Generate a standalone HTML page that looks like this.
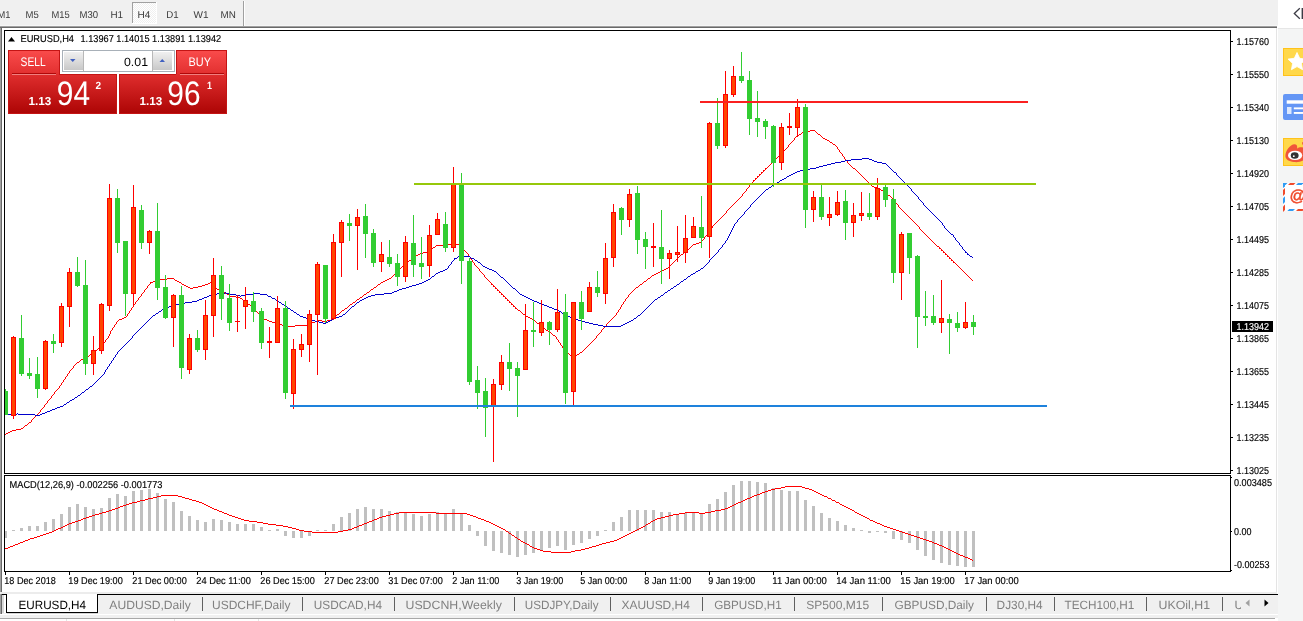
<!DOCTYPE html><html><head><meta charset="utf-8"><title>EURUSD,H4</title>
<style>html,body{margin:0;padding:0;background:#fff;overflow:hidden}svg{display:block;font-family:"Liberation Sans", sans-serif;text-rendering:geometricPrecision}</style></head><body>
<svg width="1303" height="621" viewBox="0 0 1303 621">
<defs>
<linearGradient id="gs" x1="0" y1="0" x2="0" y2="1"><stop offset="0" stop-color="#fa4c4c"/><stop offset="1" stop-color="#e23030"/></linearGradient>
<linearGradient id="gp" x1="0" y1="0" x2="0" y2="1"><stop offset="0" stop-color="#e02e2e"/><stop offset="1" stop-color="#ac0404"/></linearGradient>
<linearGradient id="gb" x1="0" y1="0" x2="0" y2="1"><stop offset="0" stop-color="#f0f0f0"/><stop offset="1" stop-color="#c8c8c8"/></linearGradient>
<pattern id="chk" width="2" height="2" patternUnits="userSpaceOnUse"><rect width="2" height="2" fill="#fff"/><rect width="1" height="1" fill="#f0f0f0"/><rect x="1" y="1" width="1" height="1" fill="#f0f0f0"/></pattern>
</defs>
<g shape-rendering="crispEdges">
<rect x="0" y="0" width="1303" height="621" fill="#fff" />
<rect x="0" y="0" width="1278" height="25" fill="#f0f0f0" />
<rect x="0" y="25" width="1278" height="1" fill="#f6f6f6" />
<rect x="0" y="26" width="1277" height="1" fill="#a0a0a0" />
<rect x="0" y="27" width="1277" height="1" fill="#696969" />
<rect x="132" y="2" width="25" height="22" fill="url(#chk)" />
<rect x="132" y="2" width="25" height="1" fill="#a0a0a0" />
<rect x="132" y="2" width="1" height="22" fill="#a0a0a0" />
<rect x="132" y="23" width="25" height="1" fill="#fff" />
<rect x="156" y="2" width="1" height="22" fill="#fff" />
<rect x="243" y="1" width="1" height="25" fill="#a0a0a0" />
<rect x="244" y="1" width="1" height="25" fill="#fff" />
<rect x="0" y="28" width="1" height="566" fill="#a0a0a0" />
<rect x="1" y="28" width="1" height="566" fill="#696969" />
<rect x="1276" y="28" width="1" height="566" fill="#e4e4e4" />
<rect x="1278" y="28" width="25" height="593" fill="#f4f5f5" />
<rect x="1278" y="28" width="25" height="1" fill="#e6e6e6" />
<rect x="4.5" y="30.5" width="1226" height="443" fill="#fff" stroke="#000" stroke-width="1"/>
<rect x="4.5" y="475.5" width="1226" height="96" fill="#fff" stroke="#000" stroke-width="1"/>
</g>
<g shape-rendering="crispEdges">
<rect x="1231" y="41" width="2" height="1" fill="#000" />
<rect x="1231" y="74" width="2" height="1" fill="#000" />
<rect x="1231" y="107" width="2" height="1" fill="#000" />
<rect x="1231" y="140" width="2" height="1" fill="#000" />
<rect x="1231" y="173" width="2" height="1" fill="#000" />
<rect x="1231" y="206" width="2" height="1" fill="#000" />
<rect x="1231" y="239" width="2" height="1" fill="#000" />
<rect x="1231" y="272" width="2" height="1" fill="#000" />
<rect x="1231" y="305" width="2" height="1" fill="#000" />
<rect x="1231" y="338" width="2" height="1" fill="#000" />
<rect x="1231" y="371" width="2" height="1" fill="#000" />
<rect x="1231" y="404" width="2" height="1" fill="#000" />
<rect x="1231" y="437" width="2" height="1" fill="#000" />
<rect x="1231" y="470" width="2" height="1" fill="#000" />
</g>
<text x="1236.5" y="45" font-size="10.0" fill="#000" textLength="32.5" lengthAdjust="spacingAndGlyphs" stroke="#000" stroke-width="0.15" >1.15760</text>
<text x="1236.5" y="78" font-size="10.0" fill="#000" textLength="32.5" lengthAdjust="spacingAndGlyphs" stroke="#000" stroke-width="0.15" >1.15550</text>
<text x="1236.5" y="111" font-size="10.0" fill="#000" textLength="32.5" lengthAdjust="spacingAndGlyphs" stroke="#000" stroke-width="0.15" >1.15340</text>
<text x="1236.5" y="144" font-size="10.0" fill="#000" textLength="32.5" lengthAdjust="spacingAndGlyphs" stroke="#000" stroke-width="0.15" >1.15130</text>
<text x="1236.5" y="177" font-size="10.0" fill="#000" textLength="32.5" lengthAdjust="spacingAndGlyphs" stroke="#000" stroke-width="0.15" >1.14920</text>
<text x="1236.5" y="210" font-size="10.0" fill="#000" textLength="32.5" lengthAdjust="spacingAndGlyphs" stroke="#000" stroke-width="0.15" >1.14705</text>
<text x="1236.5" y="243" font-size="10.0" fill="#000" textLength="32.5" lengthAdjust="spacingAndGlyphs" stroke="#000" stroke-width="0.15" >1.14495</text>
<text x="1236.5" y="276" font-size="10.0" fill="#000" textLength="32.5" lengthAdjust="spacingAndGlyphs" stroke="#000" stroke-width="0.15" >1.14285</text>
<text x="1236.5" y="309" font-size="10.0" fill="#000" textLength="32.5" lengthAdjust="spacingAndGlyphs" stroke="#000" stroke-width="0.15" >1.14075</text>
<text x="1236.5" y="342" font-size="10.0" fill="#000" textLength="32.5" lengthAdjust="spacingAndGlyphs" stroke="#000" stroke-width="0.15" >1.13865</text>
<text x="1236.5" y="375" font-size="10.0" fill="#000" textLength="32.5" lengthAdjust="spacingAndGlyphs" stroke="#000" stroke-width="0.15" >1.13655</text>
<text x="1236.5" y="408" font-size="10.0" fill="#000" textLength="32.5" lengthAdjust="spacingAndGlyphs" stroke="#000" stroke-width="0.15" >1.13445</text>
<text x="1236.5" y="441" font-size="10.0" fill="#000" textLength="32.5" lengthAdjust="spacingAndGlyphs" stroke="#000" stroke-width="0.15" >1.13235</text>
<text x="1236.5" y="474" font-size="10.0" fill="#000" textLength="32.5" lengthAdjust="spacingAndGlyphs" stroke="#000" stroke-width="0.15" >1.13025</text>
<g shape-rendering="crispEdges">
<rect x="1231" y="477" width="1" height="1" fill="#000" />
<rect x="1231" y="531" width="1" height="1" fill="#000" />
<rect x="1231" y="570" width="1" height="1" fill="#000" />
</g>
<text x="1234" y="486" font-size="10.0" fill="#000" textLength="38" lengthAdjust="spacingAndGlyphs" stroke="#000" stroke-width="0.15" >0.003485</text>
<text x="1234" y="535" font-size="10.0" fill="#000" textLength="17.5" lengthAdjust="spacingAndGlyphs" stroke="#000" stroke-width="0.15" >0.00</text>
<text x="1234" y="568" font-size="10.0" fill="#000" textLength="35.5" lengthAdjust="spacingAndGlyphs" stroke="#000" stroke-width="0.15" >-0.00253</text>
<clipPath id="cm"><rect x="5" y="31" width="1225" height="442"/></clipPath>
<path d="M5 434h1v1h-1zM6 433h1v1h-1zM7 433h1v1h-1zM8 432h1v1h-1zM9 432h1v1h-1zM10 431h1v1h-1zM11 431h1v1h-1zM12 430h1v1h-1zM13 430h1v1h-1zM14 430h1v1h-1zM15 430h1v1h-1zM16 429h1v1h-1zM17 429h1v1h-1zM18 429h1v1h-1zM19 429h1v1h-1zM20 429h1v1h-1zM21 428h1v1h-1zM22 428h1v1h-1zM23 427h1v1h-1zM24 426h1v1h-1zM25 425h1v1h-1zM26 425h1v1h-1zM27 424h1v1h-1zM28 423h1v1h-1zM29 422h1v1h-1zM30 422h1v1h-1zM31 420h1v2h-1zM32 419h1v1h-1zM33 418h1v1h-1zM34 417h1v1h-1zM35 416h1v1h-1zM36 415h1v1h-1zM37 414h1v1h-1zM38 413h1v1h-1zM39 412h1v1h-1zM40 410h1v2h-1zM41 409h1v1h-1zM42 408h1v1h-1zM43 407h1v1h-1zM44 405h1v2h-1zM45 404h1v1h-1zM46 403h1v1h-1zM47 401h1v2h-1zM48 400h1v1h-1zM49 399h1v1h-1zM50 398h1v1h-1zM51 396h1v2h-1zM52 395h1v1h-1zM53 394h1v1h-1zM54 392h1v2h-1zM55 391h1v1h-1zM56 390h1v1h-1zM57 389h1v1h-1zM58 388h1v1h-1zM59 386h1v2h-1zM60 385h1v1h-1zM61 383h1v2h-1zM62 382h1v1h-1zM63 380h1v2h-1zM64 379h1v1h-1zM65 377h1v2h-1zM66 376h1v1h-1zM67 374h1v2h-1zM68 373h1v1h-1zM69 371h1v2h-1zM70 370h1v1h-1zM71 369h1v1h-1zM72 368h1v1h-1zM73 366h1v2h-1zM74 365h1v1h-1zM75 364h1v1h-1zM76 363h1v1h-1zM77 362h1v1h-1zM78 362h1v1h-1zM79 361h1v1h-1zM80 360h1v1h-1zM81 359h1v1h-1zM82 359h1v1h-1zM83 358h1v1h-1zM84 358h1v1h-1zM85 357h1v1h-1zM86 357h1v1h-1zM87 356h1v1h-1zM88 356h1v1h-1zM89 355h1v1h-1zM90 354h1v1h-1zM91 354h1v1h-1zM92 353h1v1h-1zM93 352h1v1h-1zM94 352h1v1h-1zM95 351h1v1h-1zM96 350h1v1h-1zM97 349h1v1h-1zM98 348h1v1h-1zM99 347h1v1h-1zM100 346h1v1h-1zM101 345h1v1h-1zM102 344h1v1h-1zM103 343h1v1h-1zM104 342h1v1h-1zM105 340h1v2h-1zM106 339h1v1h-1zM107 338h1v1h-1zM108 336h1v2h-1zM109 334h1v2h-1zM110 331h1v3h-1zM111 330h1v1h-1zM112 328h1v2h-1zM113 327h1v1h-1zM114 325h1v2h-1zM115 324h1v1h-1zM116 322h1v2h-1zM117 321h1v1h-1zM118 320h1v1h-1zM119 319h1v1h-1zM120 319h1v1h-1zM121 319h1v1h-1zM122 318h1v1h-1zM123 318h1v1h-1zM124 317h1v1h-1zM125 317h1v1h-1zM126 316h1v1h-1zM127 314h1v2h-1zM128 313h1v1h-1zM129 311h1v2h-1zM130 310h1v1h-1zM131 308h1v2h-1zM132 307h1v1h-1zM133 305h1v2h-1zM134 304h1v1h-1zM135 302h1v2h-1zM136 301h1v1h-1zM137 300h1v1h-1zM138 298h1v2h-1zM139 297h1v1h-1zM140 296h1v1h-1zM141 294h1v2h-1zM142 293h1v1h-1zM143 292h1v1h-1zM144 290h1v2h-1zM145 289h1v1h-1zM146 288h1v1h-1zM147 286h1v2h-1zM148 285h1v1h-1zM149 284h1v1h-1zM150 282h1v2h-1zM151 282h1v1h-1zM152 282h1v1h-1zM153 281h1v1h-1zM154 281h1v1h-1zM155 281h1v1h-1zM156 280h1v1h-1zM157 280h1v1h-1zM158 280h1v1h-1zM159 279h1v1h-1zM160 279h1v1h-1zM161 279h1v1h-1zM162 279h1v1h-1zM163 279h1v1h-1zM164 279h1v1h-1zM165 279h1v1h-1zM166 279h1v1h-1zM167 278h1v1h-1zM168 278h1v1h-1zM169 278h1v1h-1zM170 278h1v1h-1zM171 278h1v1h-1zM172 278h1v1h-1zM173 278h1v1h-1zM174 279h1v1h-1zM175 280h1v1h-1zM176 280h1v1h-1zM177 281h1v1h-1zM178 281h1v1h-1zM179 282h1v1h-1zM180 282h1v1h-1zM181 283h1v1h-1zM182 284h1v1h-1zM183 284h1v1h-1zM184 285h1v1h-1zM185 285h1v1h-1zM186 286h1v1h-1zM187 286h1v1h-1zM188 287h1v1h-1zM189 287h1v1h-1zM190 288h1v1h-1zM191 288h1v1h-1zM192 288h1v1h-1zM193 287h1v1h-1zM194 287h1v1h-1zM195 287h1v1h-1zM196 287h1v1h-1zM197 287h1v1h-1zM198 286h1v1h-1zM199 286h1v1h-1zM200 286h1v1h-1zM201 286h1v1h-1zM202 285h1v1h-1zM203 285h1v1h-1zM204 285h1v1h-1zM205 284h1v1h-1zM206 284h1v1h-1zM207 284h1v1h-1zM208 283h1v1h-1zM209 283h1v1h-1zM210 282h1v1h-1zM211 283h1v1h-1zM212 284h1v1h-1zM213 285h1v1h-1zM214 286h1v1h-1zM215 287h1v1h-1zM216 288h1v1h-1zM217 289h1v1h-1zM218 289h1v1h-1zM219 290h1v1h-1zM220 290h1v1h-1zM221 291h1v1h-1zM222 291h1v1h-1zM223 292h1v1h-1zM224 292h1v1h-1zM225 293h1v1h-1zM226 293h1v1h-1zM227 294h1v1h-1zM228 294h1v1h-1zM229 295h1v1h-1zM230 296h1v1h-1zM231 296h1v1h-1zM232 296h1v1h-1zM233 296h1v1h-1zM234 296h1v1h-1zM235 296h1v1h-1zM236 297h1v1h-1zM237 297h1v1h-1zM238 297h1v1h-1zM239 297h1v1h-1zM240 298h1v1h-1zM241 298h1v1h-1zM242 299h1v1h-1zM243 300h1v1h-1zM244 300h1v1h-1zM245 301h1v1h-1zM246 302h1v1h-1zM247 303h1v1h-1zM248 304h1v1h-1zM249 304h1v1h-1zM250 305h1v1h-1zM251 306h1v1h-1zM252 307h1v1h-1zM253 308h1v1h-1zM254 309h1v1h-1zM255 310h1v1h-1zM256 311h1v1h-1zM257 312h1v1h-1zM258 313h1v1h-1zM259 314h1v1h-1zM260 315h1v1h-1zM261 316h1v1h-1zM262 317h1v1h-1zM263 318h1v1h-1zM264 319h1v1h-1zM265 319h1v1h-1zM266 319h1v1h-1zM267 320h1v1h-1zM268 320h1v1h-1zM269 321h1v1h-1zM270 321h1v1h-1zM271 321h1v1h-1zM272 322h1v1h-1zM273 322h1v1h-1zM274 322h1v1h-1zM275 322h1v1h-1zM276 323h1v1h-1zM277 323h1v1h-1zM278 323h1v1h-1zM279 324h1v1h-1zM280 324h1v1h-1zM281 324h1v1h-1zM282 325h1v1h-1zM283 325h1v1h-1zM284 325h1v1h-1zM285 325h1v1h-1zM286 326h1v1h-1zM287 326h1v1h-1zM288 326h1v1h-1zM289 326h1v1h-1zM290 326h1v1h-1zM291 326h1v1h-1zM292 326h1v1h-1zM293 326h1v1h-1zM294 326h1v1h-1zM295 325h1v1h-1zM296 325h1v1h-1zM297 325h1v1h-1zM298 325h1v1h-1zM299 325h1v1h-1zM300 325h1v1h-1zM301 325h1v1h-1zM302 325h1v1h-1zM303 325h1v1h-1zM304 325h1v1h-1zM305 325h1v1h-1zM306 325h1v1h-1zM307 325h1v1h-1zM308 324h1v1h-1zM309 324h1v1h-1zM310 323h1v1h-1zM311 323h1v1h-1zM312 322h1v1h-1zM313 322h1v1h-1zM314 322h1v1h-1zM315 321h1v1h-1zM316 321h1v1h-1zM317 320h1v1h-1zM318 320h1v1h-1zM319 320h1v1h-1zM320 320h1v1h-1zM321 320h1v1h-1zM322 321h1v1h-1zM323 321h1v1h-1zM324 321h1v1h-1zM325 321h1v1h-1zM326 321h1v1h-1zM327 320h1v1h-1zM328 320h1v1h-1zM329 320h1v1h-1zM330 320h1v1h-1zM331 319h1v1h-1zM332 319h1v1h-1zM333 318h1v1h-1zM334 317h1v1h-1zM335 316h1v1h-1zM336 315h1v1h-1zM337 314h1v1h-1zM338 314h1v1h-1zM339 313h1v1h-1zM340 312h1v1h-1zM341 311h1v1h-1zM342 310h1v1h-1zM343 310h1v1h-1zM344 309h1v1h-1zM345 308h1v1h-1zM346 308h1v1h-1zM347 307h1v1h-1zM348 306h1v1h-1zM349 305h1v1h-1zM350 304h1v1h-1zM351 304h1v1h-1zM352 303h1v1h-1zM353 302h1v1h-1zM354 302h1v1h-1zM355 301h1v1h-1zM356 300h1v1h-1zM357 299h1v1h-1zM358 299h1v1h-1zM359 298h1v1h-1zM360 297h1v1h-1zM361 297h1v1h-1zM362 296h1v1h-1zM363 295h1v1h-1zM364 294h1v1h-1zM365 294h1v1h-1zM366 293h1v1h-1zM367 292h1v1h-1zM368 292h1v1h-1zM369 291h1v1h-1zM370 290h1v1h-1zM371 289h1v1h-1zM372 289h1v1h-1zM373 288h1v1h-1zM374 287h1v1h-1zM375 287h1v1h-1zM376 286h1v1h-1zM377 285h1v1h-1zM378 284h1v1h-1zM379 284h1v1h-1zM380 283h1v1h-1zM381 282h1v1h-1zM382 282h1v1h-1zM383 281h1v1h-1zM384 281h1v1h-1zM385 280h1v1h-1zM386 280h1v1h-1zM387 279h1v1h-1zM388 279h1v1h-1zM389 278h1v1h-1zM390 278h1v1h-1zM391 277h1v1h-1zM392 276h1v1h-1zM393 275h1v1h-1zM394 274h1v1h-1zM395 273h1v1h-1zM396 272h1v1h-1zM397 271h1v1h-1zM398 270h1v1h-1zM399 269h1v1h-1zM400 268h1v1h-1zM401 267h1v1h-1zM402 266h1v1h-1zM403 266h1v1h-1zM404 265h1v1h-1zM405 264h1v1h-1zM406 263h1v1h-1zM407 262h1v1h-1zM408 261h1v1h-1zM409 260h1v1h-1zM410 260h1v1h-1zM411 259h1v1h-1zM412 258h1v1h-1zM413 257h1v1h-1zM414 257h1v1h-1zM415 256h1v1h-1zM416 255h1v1h-1zM417 255h1v1h-1zM418 254h1v1h-1zM419 254h1v1h-1zM420 253h1v1h-1zM421 253h1v1h-1zM422 253h1v1h-1zM423 252h1v1h-1zM424 252h1v1h-1zM425 252h1v1h-1zM426 252h1v1h-1zM427 251h1v1h-1zM428 250h1v1h-1zM429 250h1v1h-1zM430 249h1v1h-1zM431 248h1v1h-1zM432 248h1v1h-1zM433 247h1v1h-1zM434 247h1v1h-1zM435 246h1v1h-1zM436 245h1v1h-1zM437 245h1v1h-1zM438 245h1v1h-1zM439 245h1v1h-1zM440 245h1v1h-1zM441 245h1v1h-1zM442 245h1v1h-1zM443 245h1v1h-1zM444 245h1v1h-1zM445 245h1v1h-1zM446 245h1v1h-1zM447 244h1v1h-1zM448 244h1v1h-1zM449 244h1v1h-1zM450 244h1v1h-1zM451 243h1v1h-1zM452 243h1v1h-1zM453 243h1v1h-1zM454 243h1v1h-1zM455 244h1v1h-1zM456 244h1v1h-1zM457 244h1v1h-1zM458 244h1v1h-1zM459 245h1v1h-1zM460 245h1v1h-1zM461 246h1v1h-1zM462 247h1v1h-1zM463 248h1v2h-1zM464 250h1v1h-1zM465 251h1v1h-1zM466 252h1v1h-1zM467 253h1v1h-1zM468 254h1v2h-1zM469 256h1v1h-1zM470 257h1v2h-1zM471 259h1v1h-1zM472 260h1v2h-1zM473 262h1v1h-1zM474 263h1v2h-1zM475 265h1v1h-1zM476 266h1v1h-1zM477 267h1v1h-1zM478 268h1v1h-1zM479 269h1v2h-1zM480 271h1v1h-1zM481 272h1v1h-1zM482 273h1v1h-1zM483 274h1v1h-1zM484 275h1v2h-1zM485 277h1v1h-1zM486 278h1v1h-1zM487 279h1v1h-1zM488 280h1v1h-1zM489 281h1v1h-1zM490 282h1v1h-1zM491 283h1v2h-1zM492 284h1v1h-1zM493 285h1v2h-1zM494 286h1v1h-1zM495 287h1v2h-1zM496 288h1v1h-1zM497 289h1v2h-1zM498 290h1v1h-1zM499 291h1v2h-1zM500 292h1v1h-1zM501 293h1v2h-1zM502 294h1v1h-1zM503 295h1v2h-1zM504 296h1v1h-1zM505 297h1v2h-1zM506 298h1v1h-1zM507 299h1v2h-1zM508 300h1v1h-1zM509 301h1v2h-1zM510 302h1v1h-1zM511 303h1v2h-1zM512 304h1v1h-1zM513 305h1v2h-1zM514 306h1v1h-1zM515 307h1v2h-1zM516 308h1v1h-1zM517 309h1v1h-1zM518 310h1v1h-1zM519 310h1v1h-1zM520 311h1v1h-1zM521 312h1v1h-1zM522 313h1v1h-1zM523 314h1v1h-1zM524 314h1v1h-1zM525 315h1v1h-1zM526 316h1v1h-1zM527 316h1v1h-1zM528 317h1v1h-1zM529 317h1v1h-1zM530 318h1v1h-1zM531 318h1v1h-1zM532 319h1v1h-1zM533 319h1v1h-1zM534 320h1v1h-1zM535 321h1v1h-1zM536 322h1v1h-1zM537 323h1v1h-1zM538 323h1v1h-1zM539 324h1v1h-1zM540 325h1v1h-1zM541 326h1v1h-1zM542 327h1v1h-1zM543 327h1v1h-1zM544 328h1v1h-1zM545 329h1v1h-1zM546 330h1v1h-1zM547 330h1v1h-1zM548 331h1v1h-1zM549 332h1v1h-1zM550 332h1v1h-1zM551 333h1v1h-1zM552 334h1v1h-1zM553 335h1v1h-1zM554 335h1v1h-1zM555 336h1v1h-1zM556 337h1v2h-1zM557 339h1v1h-1zM558 340h1v2h-1zM559 342h1v1h-1zM560 343h1v2h-1zM561 345h1v1h-1zM562 346h1v2h-1zM563 348h1v1h-1zM564 349h1v1h-1zM565 350h1v1h-1zM566 351h1v1h-1zM567 352h1v1h-1zM568 353h1v1h-1zM569 354h1v1h-1zM570 355h1v1h-1zM571 355h1v1h-1zM572 355h1v1h-1zM573 355h1v1h-1zM574 355h1v1h-1zM575 356h1v1h-1zM576 355h1v1h-1zM577 354h1v1h-1zM578 354h1v1h-1zM579 353h1v1h-1zM580 352h1v1h-1zM581 352h1v1h-1zM582 351h1v1h-1zM583 350h1v1h-1zM584 349h1v1h-1zM585 348h1v1h-1zM586 347h1v1h-1zM587 346h1v1h-1zM588 345h1v1h-1zM589 344h1v1h-1zM590 343h1v1h-1zM591 342h1v1h-1zM592 341h1v1h-1zM593 340h1v1h-1zM594 339h1v1h-1zM595 338h1v1h-1zM596 336h1v2h-1zM597 335h1v1h-1zM598 334h1v1h-1zM599 333h1v1h-1zM600 332h1v1h-1zM601 330h1v2h-1zM602 329h1v1h-1zM603 328h1v1h-1zM604 327h1v1h-1zM605 326h1v1h-1zM606 324h1v2h-1zM607 323h1v1h-1zM608 322h1v1h-1zM609 321h1v1h-1zM610 320h1v1h-1zM611 319h1v1h-1zM612 318h1v1h-1zM613 317h1v1h-1zM614 316h1v1h-1zM615 315h1v1h-1zM616 313h1v2h-1zM617 312h1v1h-1zM618 310h1v2h-1zM619 309h1v1h-1zM620 307h1v2h-1zM621 305h1v2h-1zM622 304h1v1h-1zM623 302h1v2h-1zM624 301h1v1h-1zM625 299h1v2h-1zM626 298h1v1h-1zM627 297h1v1h-1zM628 295h1v2h-1zM629 294h1v1h-1zM630 293h1v1h-1zM631 292h1v1h-1zM632 291h1v1h-1zM633 290h1v1h-1zM634 289h1v1h-1zM635 288h1v1h-1zM636 287h1v1h-1zM637 287h1v1h-1zM638 286h1v1h-1zM639 285h1v1h-1zM640 284h1v1h-1zM641 284h1v1h-1zM642 283h1v1h-1zM643 282h1v1h-1zM644 281h1v1h-1zM645 281h1v1h-1zM646 280h1v1h-1zM647 279h1v1h-1zM648 278h1v1h-1zM649 278h1v1h-1zM650 277h1v1h-1zM651 276h1v1h-1zM652 275h1v1h-1zM653 275h1v1h-1zM654 274h1v1h-1zM655 274h1v1h-1zM656 273h1v1h-1zM657 273h1v1h-1zM658 272h1v1h-1zM659 272h1v1h-1zM660 271h1v1h-1zM661 271h1v1h-1zM662 270h1v1h-1zM663 270h1v1h-1zM664 269h1v1h-1zM665 269h1v1h-1zM666 268h1v1h-1zM667 268h1v1h-1zM668 267h1v1h-1zM669 266h1v1h-1zM670 265h1v1h-1zM671 264h1v1h-1zM672 263h1v1h-1zM673 262h1v1h-1zM674 261h1v1h-1zM675 260h1v1h-1zM676 259h1v1h-1zM677 258h1v1h-1zM678 257h1v1h-1zM679 256h1v1h-1zM680 255h1v1h-1zM681 254h1v1h-1zM682 254h1v1h-1zM683 253h1v1h-1zM684 252h1v1h-1zM685 251h1v1h-1zM686 250h1v1h-1zM687 250h1v1h-1zM688 249h1v1h-1zM689 248h1v1h-1zM690 247h1v1h-1zM691 246h1v1h-1zM692 245h1v1h-1zM693 244h1v1h-1zM694 244h1v1h-1zM695 244h1v1h-1zM696 243h1v1h-1zM697 243h1v1h-1zM698 243h1v1h-1zM699 242h1v1h-1zM700 242h1v1h-1zM701 241h1v1h-1zM702 240h1v1h-1zM703 239h1v1h-1zM704 237h1v2h-1zM705 236h1v1h-1zM706 235h1v1h-1zM707 234h1v1h-1zM708 232h1v2h-1zM709 231h1v1h-1zM710 230h1v1h-1zM711 228h1v2h-1zM712 226h1v2h-1zM713 225h1v1h-1zM714 224h1v1h-1zM715 223h1v1h-1zM716 222h1v1h-1zM717 221h1v1h-1zM718 220h1v1h-1zM719 219h1v1h-1zM720 218h1v1h-1zM721 217h1v1h-1zM722 216h1v1h-1zM723 215h1v1h-1zM724 214h1v1h-1zM725 213h1v1h-1zM726 211h1v2h-1zM727 210h1v1h-1zM728 209h1v1h-1zM729 208h1v1h-1zM730 207h1v1h-1zM731 206h1v1h-1zM732 205h1v1h-1zM733 204h1v1h-1zM734 203h1v1h-1zM735 202h1v1h-1zM736 201h1v1h-1zM737 200h1v1h-1zM738 199h1v1h-1zM739 198h1v1h-1zM740 197h1v1h-1zM741 196h1v1h-1zM742 194h1v2h-1zM743 193h1v1h-1zM744 192h1v1h-1zM745 191h1v1h-1zM746 189h1v2h-1zM747 188h1v1h-1zM748 187h1v1h-1zM749 185h1v2h-1zM750 184h1v1h-1zM751 183h1v1h-1zM752 182h1v1h-1zM753 180h1v2h-1zM754 180h1v1h-1zM755 178h1v2h-1zM756 178h1v1h-1zM757 176h1v2h-1zM758 176h1v1h-1zM759 174h1v2h-1zM760 174h1v1h-1zM761 172h1v2h-1zM762 172h1v1h-1zM763 170h1v2h-1zM764 170h1v1h-1zM765 168h1v2h-1zM766 168h1v1h-1zM767 167h1v1h-1zM768 166h1v1h-1zM769 165h1v1h-1zM770 164h1v1h-1zM771 163h1v1h-1zM772 162h1v1h-1zM773 161h1v1h-1zM774 160h1v1h-1zM775 159h1v1h-1zM776 158h1v1h-1zM777 157h1v1h-1zM778 156h1v1h-1zM779 155h1v1h-1zM780 154h1v1h-1zM781 153h1v1h-1zM782 152h1v1h-1zM783 151h1v1h-1zM784 150h1v1h-1zM785 149h1v1h-1zM786 148h1v1h-1zM787 147h1v1h-1zM788 145h1v2h-1zM789 144h1v1h-1zM790 143h1v1h-1zM791 142h1v1h-1zM792 141h1v1h-1zM793 140h1v1h-1zM794 138h1v2h-1zM795 137h1v1h-1zM796 136h1v1h-1zM797 135h1v1h-1zM798 135h1v1h-1zM799 134h1v1h-1zM800 134h1v1h-1zM801 133h1v1h-1zM802 132h1v1h-1zM803 132h1v1h-1zM804 132h1v1h-1zM805 132h1v1h-1zM806 131h1v1h-1zM807 131h1v1h-1zM808 131h1v1h-1zM809 131h1v1h-1zM810 130h1v1h-1zM811 130h1v1h-1zM812 130h1v1h-1zM813 130h1v1h-1zM814 130h1v1h-1zM815 131h1v1h-1zM816 132h1v1h-1zM817 133h1v1h-1zM818 134h1v1h-1zM819 134h1v1h-1zM820 135h1v1h-1zM821 136h1v1h-1zM822 137h1v1h-1zM823 138h1v1h-1zM824 138h1v1h-1zM825 139h1v1h-1zM826 139h1v1h-1zM827 140h1v1h-1zM828 140h1v1h-1zM829 141h1v1h-1zM830 142h1v1h-1zM831 142h1v1h-1zM832 143h1v1h-1zM833 144h1v1h-1zM834 144h1v1h-1zM835 145h1v1h-1zM836 146h1v1h-1zM837 147h1v2h-1zM838 149h1v1h-1zM839 150h1v2h-1zM840 152h1v1h-1zM841 153h1v1h-1zM842 154h1v2h-1zM843 156h1v1h-1zM844 157h1v2h-1zM845 159h1v1h-1zM846 160h1v1h-1zM847 161h1v2h-1zM848 163h1v1h-1zM849 164h1v1h-1zM850 165h1v1h-1zM851 166h1v1h-1zM852 167h1v1h-1zM853 168h1v1h-1zM854 168h1v1h-1zM855 169h1v1h-1zM856 170h1v1h-1zM857 171h1v1h-1zM858 172h1v1h-1zM859 173h1v1h-1zM860 174h1v1h-1zM861 175h1v1h-1zM862 176h1v1h-1zM863 177h1v1h-1zM864 178h1v1h-1zM865 179h1v1h-1zM866 180h1v1h-1zM867 181h1v1h-1zM868 182h1v1h-1zM869 183h1v1h-1zM870 184h1v1h-1zM871 185h1v1h-1zM872 186h1v1h-1zM873 186h1v1h-1zM874 187h1v1h-1zM875 187h1v1h-1zM876 187h1v1h-1zM877 188h1v1h-1zM878 188h1v1h-1zM879 189h1v1h-1zM880 189h1v1h-1zM881 190h1v1h-1zM882 190h1v1h-1zM883 191h1v1h-1zM884 192h1v1h-1zM885 192h1v1h-1zM886 193h1v1h-1zM887 194h1v1h-1zM888 195h1v1h-1zM889 195h1v1h-1zM890 196h1v1h-1zM891 197h1v1h-1zM892 198h1v1h-1zM893 199h1v2h-1zM894 201h1v1h-1zM895 202h1v1h-1zM896 203h1v1h-1zM897 204h1v1h-1zM898 205h1v2h-1zM899 207h1v1h-1zM900 208h1v1h-1zM901 209h1v1h-1zM902 210h1v1h-1zM903 211h1v1h-1zM904 212h1v1h-1zM905 213h1v1h-1zM906 214h1v1h-1zM907 215h1v1h-1zM908 216h1v1h-1zM909 217h1v1h-1zM910 218h1v1h-1zM911 219h1v1h-1zM912 220h1v1h-1zM913 221h1v1h-1zM914 222h1v1h-1zM915 223h1v1h-1zM916 224h1v1h-1zM917 225h1v1h-1zM918 226h1v1h-1zM919 227h1v2h-1zM920 229h1v1h-1zM921 230h1v1h-1zM922 231h1v1h-1zM923 232h1v1h-1zM924 233h1v1h-1zM925 234h1v1h-1zM926 235h1v1h-1zM927 236h1v1h-1zM928 237h1v1h-1zM929 238h1v1h-1zM930 239h1v1h-1zM931 240h1v1h-1zM932 241h1v1h-1zM933 242h1v1h-1zM934 243h1v1h-1zM935 244h1v1h-1zM936 245h1v1h-1zM937 246h1v1h-1zM938 246h1v1h-1zM939 247h1v2h-1zM940 248h1v1h-1zM941 249h1v2h-1zM942 250h1v1h-1zM943 251h1v2h-1zM944 252h1v1h-1zM945 253h1v2h-1zM946 254h1v1h-1zM947 255h1v2h-1zM948 256h1v1h-1zM949 257h1v2h-1zM950 258h1v1h-1zM951 259h1v2h-1zM952 260h1v1h-1zM953 261h1v2h-1zM954 262h1v1h-1zM955 263h1v1h-1zM956 264h1v1h-1zM957 265h1v1h-1zM958 266h1v1h-1zM959 267h1v1h-1zM960 268h1v1h-1zM961 269h1v1h-1zM962 270h1v1h-1zM963 271h1v1h-1zM964 272h1v1h-1zM965 273h1v1h-1zM966 274h1v1h-1zM967 275h1v1h-1zM968 276h1v1h-1zM969 277h1v1h-1zM970 278h1v1h-1zM971 279h1v1h-1zM972 280h1v1h-1z" fill="#ff0000" shape-rendering="crispEdges" clip-path="url(#cm)"/>
<path d="M5 414h1v1h-1zM6 414h1v1h-1zM7 414h1v1h-1zM8 414h1v1h-1zM9 414h1v1h-1zM10 414h1v1h-1zM11 414h1v1h-1zM12 414h1v1h-1zM13 414h1v1h-1zM14 414h1v1h-1zM15 414h1v1h-1zM16 414h1v1h-1zM17 413h1v1h-1zM18 414h1v1h-1zM19 414h1v1h-1zM20 414h1v1h-1zM21 414h1v1h-1zM22 414h1v1h-1zM23 414h1v1h-1zM24 414h1v1h-1zM25 414h1v1h-1zM26 414h1v1h-1zM27 414h1v1h-1zM28 414h1v1h-1zM29 414h1v1h-1zM30 414h1v1h-1zM31 414h1v1h-1zM32 414h1v1h-1zM33 414h1v1h-1zM34 414h1v1h-1zM35 415h1v1h-1zM36 415h1v1h-1zM37 415h1v1h-1zM38 415h1v1h-1zM39 415h1v1h-1zM40 414h1v1h-1zM41 414h1v1h-1zM42 413h1v1h-1zM43 413h1v1h-1zM44 413h1v1h-1zM45 412h1v1h-1zM46 412h1v1h-1zM47 411h1v1h-1zM48 411h1v1h-1zM49 411h1v1h-1zM50 410h1v1h-1zM51 410h1v1h-1zM52 409h1v1h-1zM53 409h1v1h-1zM54 409h1v1h-1zM55 408h1v1h-1zM56 408h1v1h-1zM57 407h1v1h-1zM58 407h1v1h-1zM59 407h1v1h-1zM60 406h1v1h-1zM61 406h1v1h-1zM62 406h1v1h-1zM63 405h1v1h-1zM64 404h1v1h-1zM65 404h1v1h-1zM66 403h1v1h-1zM67 402h1v1h-1zM68 402h1v1h-1zM69 401h1v1h-1zM70 400h1v1h-1zM71 400h1v1h-1zM72 399h1v1h-1zM73 399h1v1h-1zM74 398h1v1h-1zM75 397h1v1h-1zM76 397h1v1h-1zM77 396h1v1h-1zM78 395h1v1h-1zM79 395h1v1h-1zM80 394h1v1h-1zM81 393h1v1h-1zM82 392h1v1h-1zM83 392h1v1h-1zM84 391h1v1h-1zM85 390h1v1h-1zM86 389h1v1h-1zM87 389h1v1h-1zM88 388h1v1h-1zM89 387h1v1h-1zM90 386h1v1h-1zM91 386h1v1h-1zM92 385h1v1h-1zM93 384h1v1h-1zM94 383h1v1h-1zM95 382h1v1h-1zM96 381h1v1h-1zM97 380h1v1h-1zM98 379h1v1h-1zM99 378h1v1h-1zM100 377h1v1h-1zM101 376h1v1h-1zM102 375h1v1h-1zM103 374h1v1h-1zM104 372h1v2h-1zM105 370h1v2h-1zM106 369h1v1h-1zM107 367h1v2h-1zM108 366h1v1h-1zM109 364h1v2h-1zM110 363h1v1h-1zM111 361h1v2h-1zM112 360h1v1h-1zM113 358h1v2h-1zM114 357h1v1h-1zM115 355h1v2h-1zM116 354h1v1h-1zM117 352h1v2h-1zM118 351h1v1h-1zM119 350h1v1h-1zM120 349h1v1h-1zM121 348h1v1h-1zM122 347h1v1h-1zM123 346h1v1h-1zM124 345h1v1h-1zM125 344h1v1h-1zM126 343h1v1h-1zM127 342h1v1h-1zM128 341h1v1h-1zM129 340h1v1h-1zM130 339h1v1h-1zM131 338h1v1h-1zM132 336h1v2h-1zM133 335h1v1h-1zM134 334h1v1h-1zM135 333h1v1h-1zM136 332h1v1h-1zM137 331h1v1h-1zM138 330h1v1h-1zM139 329h1v1h-1zM140 328h1v1h-1zM141 327h1v1h-1zM142 326h1v1h-1zM143 325h1v1h-1zM144 324h1v1h-1zM145 323h1v1h-1zM146 322h1v1h-1zM147 321h1v1h-1zM148 320h1v1h-1zM149 319h1v1h-1zM150 318h1v1h-1zM151 317h1v1h-1zM152 316h1v1h-1zM153 315h1v1h-1zM154 315h1v1h-1zM155 314h1v1h-1zM156 313h1v1h-1zM157 313h1v1h-1zM158 312h1v1h-1zM159 311h1v1h-1zM160 311h1v1h-1zM161 310h1v1h-1zM162 309h1v1h-1zM163 309h1v1h-1zM164 308h1v1h-1zM165 308h1v1h-1zM166 308h1v1h-1zM167 307h1v1h-1zM168 307h1v1h-1zM169 306h1v1h-1zM170 306h1v1h-1zM171 306h1v1h-1zM172 305h1v1h-1zM173 305h1v1h-1zM174 304h1v1h-1zM175 304h1v1h-1zM176 304h1v1h-1zM177 304h1v1h-1zM178 304h1v1h-1zM179 303h1v1h-1zM180 303h1v1h-1zM181 303h1v1h-1zM182 303h1v1h-1zM183 303h1v1h-1zM184 303h1v1h-1zM185 302h1v1h-1zM186 302h1v1h-1zM187 302h1v1h-1zM188 302h1v1h-1zM189 302h1v1h-1zM190 302h1v1h-1zM191 302h1v1h-1zM192 301h1v1h-1zM193 301h1v1h-1zM194 301h1v1h-1zM195 301h1v1h-1zM196 301h1v1h-1zM197 300h1v1h-1zM198 300h1v1h-1zM199 299h1v1h-1zM200 299h1v1h-1zM201 299h1v1h-1zM202 298h1v1h-1zM203 298h1v1h-1zM204 297h1v1h-1zM205 297h1v1h-1zM206 297h1v1h-1zM207 296h1v1h-1zM208 296h1v1h-1zM209 295h1v1h-1zM210 295h1v1h-1zM211 295h1v1h-1zM212 294h1v1h-1zM213 294h1v1h-1zM214 294h1v1h-1zM215 294h1v1h-1zM216 294h1v1h-1zM217 293h1v1h-1zM218 293h1v1h-1zM219 293h1v1h-1zM220 293h1v1h-1zM221 293h1v1h-1zM222 293h1v1h-1zM223 293h1v1h-1zM224 293h1v1h-1zM225 292h1v1h-1zM226 293h1v1h-1zM227 293h1v1h-1zM228 293h1v1h-1zM229 293h1v1h-1zM230 294h1v1h-1zM231 294h1v1h-1zM232 294h1v1h-1zM233 294h1v1h-1zM234 294h1v1h-1zM235 294h1v1h-1zM236 295h1v1h-1zM237 295h1v1h-1zM238 295h1v1h-1zM239 295h1v1h-1zM240 296h1v1h-1zM241 295h1v1h-1zM242 295h1v1h-1zM243 295h1v1h-1zM244 295h1v1h-1zM245 295h1v1h-1zM246 294h1v1h-1zM247 294h1v1h-1zM248 294h1v1h-1zM249 294h1v1h-1zM250 294h1v1h-1zM251 294h1v1h-1zM252 294h1v1h-1zM253 293h1v1h-1zM254 293h1v1h-1zM255 293h1v1h-1zM256 293h1v1h-1zM257 293h1v1h-1zM258 293h1v1h-1zM259 293h1v1h-1zM260 294h1v1h-1zM261 294h1v1h-1zM262 294h1v1h-1zM263 294h1v1h-1zM264 294h1v1h-1zM265 294h1v1h-1zM266 294h1v1h-1zM267 295h1v1h-1zM268 296h1v1h-1zM269 296h1v1h-1zM270 296h1v1h-1zM271 297h1v1h-1zM272 298h1v1h-1zM273 298h1v1h-1zM274 298h1v1h-1zM275 299h1v1h-1zM276 300h1v1h-1zM277 300h1v1h-1zM278 301h1v1h-1zM279 302h1v1h-1zM280 302h1v1h-1zM281 303h1v1h-1zM282 304h1v1h-1zM283 304h1v1h-1zM284 305h1v1h-1zM285 306h1v1h-1zM286 306h1v1h-1zM287 307h1v1h-1zM288 308h1v1h-1zM289 308h1v1h-1zM290 309h1v1h-1zM291 310h1v1h-1zM292 310h1v1h-1zM293 311h1v1h-1zM294 312h1v1h-1zM295 312h1v1h-1zM296 313h1v1h-1zM297 314h1v1h-1zM298 314h1v1h-1zM299 315h1v1h-1zM300 316h1v1h-1zM301 316h1v1h-1zM302 316h1v1h-1zM303 317h1v1h-1zM304 317h1v1h-1zM305 317h1v1h-1zM306 318h1v1h-1zM307 318h1v1h-1zM308 318h1v1h-1zM309 319h1v1h-1zM310 319h1v1h-1zM311 319h1v1h-1zM312 320h1v1h-1zM313 320h1v1h-1zM314 320h1v1h-1zM315 321h1v1h-1zM316 321h1v1h-1zM317 321h1v1h-1zM318 321h1v1h-1zM319 322h1v1h-1zM320 322h1v1h-1zM321 322h1v1h-1zM322 322h1v1h-1zM323 323h1v1h-1zM324 323h1v1h-1zM325 323h1v1h-1zM326 322h1v1h-1zM327 322h1v1h-1zM328 321h1v1h-1zM329 321h1v1h-1zM330 320h1v1h-1zM331 320h1v1h-1zM332 319h1v1h-1zM333 319h1v1h-1zM334 318h1v1h-1zM335 318h1v1h-1zM336 317h1v1h-1zM337 317h1v1h-1zM338 317h1v1h-1zM339 316h1v1h-1zM340 316h1v1h-1zM341 316h1v1h-1zM342 315h1v1h-1zM343 314h1v1h-1zM344 314h1v1h-1zM345 313h1v1h-1zM346 312h1v1h-1zM347 311h1v1h-1zM348 310h1v1h-1zM349 309h1v1h-1zM350 308h1v1h-1zM351 307h1v1h-1zM352 306h1v1h-1zM353 306h1v1h-1zM354 305h1v1h-1zM355 304h1v1h-1zM356 303h1v1h-1zM357 302h1v1h-1zM358 302h1v1h-1zM359 301h1v1h-1zM360 300h1v1h-1zM361 300h1v1h-1zM362 299h1v1h-1zM363 299h1v1h-1zM364 298h1v1h-1zM365 298h1v1h-1zM366 297h1v1h-1zM367 297h1v1h-1zM368 296h1v1h-1zM369 296h1v1h-1zM370 296h1v1h-1zM371 295h1v1h-1zM372 295h1v1h-1zM373 295h1v1h-1zM374 295h1v1h-1zM375 294h1v1h-1zM376 294h1v1h-1zM377 294h1v1h-1zM378 294h1v1h-1zM379 294h1v1h-1zM380 294h1v1h-1zM381 294h1v1h-1zM382 294h1v1h-1zM383 294h1v1h-1zM384 293h1v1h-1zM385 293h1v1h-1zM386 293h1v1h-1zM387 293h1v1h-1zM388 293h1v1h-1zM389 293h1v1h-1zM390 293h1v1h-1zM391 293h1v1h-1zM392 292h1v1h-1zM393 292h1v1h-1zM394 291h1v1h-1zM395 291h1v1h-1zM396 291h1v1h-1zM397 290h1v1h-1zM398 290h1v1h-1zM399 289h1v1h-1zM400 289h1v1h-1zM401 289h1v1h-1zM402 288h1v1h-1zM403 288h1v1h-1zM404 288h1v1h-1zM405 288h1v1h-1zM406 287h1v1h-1zM407 287h1v1h-1zM408 287h1v1h-1zM409 286h1v1h-1zM410 286h1v1h-1zM411 286h1v1h-1zM412 285h1v1h-1zM413 285h1v1h-1zM414 285h1v1h-1zM415 285h1v1h-1zM416 284h1v1h-1zM417 284h1v1h-1zM418 284h1v1h-1zM419 283h1v1h-1zM420 283h1v1h-1zM421 283h1v1h-1zM422 282h1v1h-1zM423 282h1v1h-1zM424 281h1v1h-1zM425 281h1v1h-1zM426 280h1v1h-1zM427 280h1v1h-1zM428 279h1v1h-1zM429 279h1v1h-1zM430 278h1v1h-1zM431 277h1v1h-1zM432 276h1v1h-1zM433 276h1v1h-1zM434 275h1v1h-1zM435 274h1v1h-1zM436 273h1v1h-1zM437 273h1v1h-1zM438 272h1v1h-1zM439 272h1v1h-1zM440 271h1v1h-1zM441 271h1v1h-1zM442 271h1v1h-1zM443 270h1v1h-1zM444 270h1v1h-1zM445 269h1v1h-1zM446 269h1v1h-1zM447 268h1v1h-1zM448 266h1v2h-1zM449 265h1v1h-1zM450 264h1v1h-1zM451 262h1v2h-1zM452 261h1v1h-1zM453 260h1v1h-1zM454 258h1v2h-1zM455 258h1v1h-1zM456 258h1v1h-1zM457 257h1v1h-1zM458 256h1v1h-1zM459 256h1v1h-1zM460 256h1v1h-1zM461 256h1v1h-1zM462 256h1v1h-1zM463 256h1v1h-1zM464 256h1v1h-1zM465 256h1v1h-1zM466 256h1v1h-1zM467 256h1v1h-1zM468 256h1v1h-1zM469 256h1v1h-1zM470 257h1v1h-1zM471 258h1v1h-1zM472 258h1v1h-1zM473 258h1v1h-1zM474 259h1v1h-1zM475 260h1v1h-1zM476 260h1v1h-1zM477 261h1v1h-1zM478 262h1v1h-1zM479 262h1v1h-1zM480 263h1v1h-1zM481 264h1v1h-1zM482 265h1v1h-1zM483 266h1v1h-1zM484 266h1v1h-1zM485 267h1v1h-1zM486 267h1v1h-1zM487 268h1v1h-1zM488 268h1v1h-1zM489 269h1v1h-1zM490 269h1v1h-1zM491 269h1v1h-1zM492 270h1v1h-1zM493 270h1v1h-1zM494 271h1v1h-1zM495 271h1v1h-1zM496 272h1v1h-1zM497 273h1v1h-1zM498 274h1v1h-1zM499 275h1v1h-1zM500 276h1v1h-1zM501 277h1v1h-1zM502 277h1v1h-1zM503 278h1v1h-1zM504 279h1v1h-1zM505 280h1v1h-1zM506 281h1v1h-1zM507 282h1v1h-1zM508 283h1v1h-1zM509 284h1v1h-1zM510 285h1v1h-1zM511 286h1v1h-1zM512 287h1v1h-1zM513 288h1v1h-1zM514 288h1v1h-1zM515 289h1v1h-1zM516 290h1v1h-1zM517 291h1v1h-1zM518 292h1v1h-1zM519 293h1v1h-1zM520 294h1v1h-1zM521 294h1v1h-1zM522 295h1v1h-1zM523 295h1v1h-1zM524 296h1v1h-1zM525 296h1v1h-1zM526 297h1v1h-1zM527 297h1v1h-1zM528 298h1v1h-1zM529 298h1v1h-1zM530 299h1v1h-1zM531 299h1v1h-1zM532 300h1v1h-1zM533 300h1v1h-1zM534 301h1v1h-1zM535 301h1v1h-1zM536 301h1v1h-1zM537 302h1v1h-1zM538 302h1v1h-1zM539 303h1v1h-1zM540 303h1v1h-1zM541 303h1v1h-1zM542 304h1v1h-1zM543 304h1v1h-1zM544 305h1v1h-1zM545 305h1v1h-1zM546 305h1v1h-1zM547 306h1v1h-1zM548 306h1v1h-1zM549 307h1v1h-1zM550 307h1v1h-1zM551 307h1v1h-1zM552 308h1v1h-1zM553 308h1v1h-1zM554 309h1v1h-1zM555 309h1v1h-1zM556 309h1v1h-1zM557 310h1v1h-1zM558 310h1v1h-1zM559 311h1v1h-1zM560 311h1v1h-1zM561 312h1v1h-1zM562 313h1v1h-1zM563 313h1v1h-1zM564 314h1v1h-1zM565 314h1v1h-1zM566 315h1v1h-1zM567 315h1v1h-1zM568 316h1v1h-1zM569 316h1v1h-1zM570 317h1v1h-1zM571 317h1v1h-1zM572 318h1v1h-1zM573 318h1v1h-1zM574 318h1v1h-1zM575 319h1v1h-1zM576 319h1v1h-1zM577 319h1v1h-1zM578 320h1v1h-1zM579 320h1v1h-1zM580 320h1v1h-1zM581 321h1v1h-1zM582 321h1v1h-1zM583 321h1v1h-1zM584 321h1v1h-1zM585 322h1v1h-1zM586 322h1v1h-1zM587 322h1v1h-1zM588 322h1v1h-1zM589 323h1v1h-1zM590 323h1v1h-1zM591 323h1v1h-1zM592 323h1v1h-1zM593 324h1v1h-1zM594 324h1v1h-1zM595 324h1v1h-1zM596 324h1v1h-1zM597 324h1v1h-1zM598 325h1v1h-1zM599 325h1v1h-1zM600 325h1v1h-1zM601 325h1v1h-1zM602 325h1v1h-1zM603 326h1v1h-1zM604 326h1v1h-1zM605 326h1v1h-1zM606 326h1v1h-1zM607 326h1v1h-1zM608 326h1v1h-1zM609 326h1v1h-1zM610 326h1v1h-1zM611 326h1v1h-1zM612 326h1v1h-1zM613 326h1v1h-1zM614 326h1v1h-1zM615 326h1v1h-1zM616 326h1v1h-1zM617 326h1v1h-1zM618 326h1v1h-1zM619 326h1v1h-1zM620 326h1v1h-1zM621 325h1v1h-1zM622 325h1v1h-1zM623 324h1v1h-1zM624 324h1v1h-1zM625 323h1v1h-1zM626 323h1v1h-1zM627 322h1v1h-1zM628 322h1v1h-1zM629 321h1v1h-1zM630 321h1v1h-1zM631 320h1v1h-1zM632 320h1v1h-1zM633 319h1v1h-1zM634 318h1v1h-1zM635 318h1v1h-1zM636 317h1v1h-1zM637 316h1v1h-1zM638 315h1v1h-1zM639 315h1v1h-1zM640 314h1v1h-1zM641 313h1v1h-1zM642 312h1v1h-1zM643 311h1v1h-1zM644 310h1v1h-1zM645 309h1v1h-1zM646 308h1v1h-1zM647 307h1v1h-1zM648 306h1v1h-1zM649 305h1v1h-1zM650 304h1v1h-1zM651 303h1v1h-1zM652 302h1v1h-1zM653 301h1v1h-1zM654 300h1v1h-1zM655 299h1v1h-1zM656 299h1v1h-1zM657 298h1v1h-1zM658 297h1v1h-1zM659 297h1v1h-1zM660 296h1v1h-1zM661 295h1v1h-1zM662 295h1v1h-1zM663 294h1v1h-1zM664 293h1v1h-1zM665 292h1v1h-1zM666 292h1v1h-1zM667 291h1v1h-1zM668 290h1v1h-1zM669 290h1v1h-1zM670 289h1v1h-1zM671 288h1v1h-1zM672 288h1v1h-1zM673 287h1v1h-1zM674 286h1v1h-1zM675 286h1v1h-1zM676 285h1v1h-1zM677 284h1v1h-1zM678 284h1v1h-1zM679 283h1v1h-1zM680 282h1v1h-1zM681 281h1v1h-1zM682 281h1v1h-1zM683 280h1v1h-1zM684 279h1v1h-1zM685 279h1v1h-1zM686 278h1v1h-1zM687 277h1v1h-1zM688 276h1v1h-1zM689 276h1v1h-1zM690 275h1v1h-1zM691 274h1v1h-1zM692 274h1v1h-1zM693 273h1v1h-1zM694 273h1v1h-1zM695 272h1v1h-1zM696 271h1v1h-1zM697 271h1v1h-1zM698 270h1v1h-1zM699 270h1v1h-1zM700 269h1v1h-1zM701 268h1v1h-1zM702 268h1v1h-1zM703 267h1v1h-1zM704 266h1v1h-1zM705 265h1v1h-1zM706 264h1v1h-1zM707 263h1v1h-1zM708 262h1v1h-1zM709 260h1v2h-1zM710 259h1v1h-1zM711 258h1v1h-1zM712 257h1v1h-1zM713 256h1v1h-1zM714 255h1v1h-1zM715 254h1v1h-1zM716 253h1v1h-1zM717 252h1v1h-1zM718 250h1v2h-1zM719 249h1v1h-1zM720 248h1v1h-1zM721 247h1v1h-1zM722 245h1v2h-1zM723 244h1v1h-1zM724 243h1v1h-1zM725 241h1v2h-1zM726 240h1v1h-1zM727 238h1v2h-1zM728 236h1v2h-1zM729 234h1v2h-1zM730 232h1v2h-1zM731 230h1v2h-1zM732 228h1v2h-1zM733 226h1v2h-1zM734 224h1v2h-1zM735 223h1v1h-1zM736 222h1v1h-1zM737 220h1v2h-1zM738 219h1v1h-1zM739 218h1v1h-1zM740 217h1v1h-1zM741 216h1v1h-1zM742 215h1v1h-1zM743 214h1v1h-1zM744 212h1v2h-1zM745 211h1v1h-1zM746 210h1v1h-1zM747 209h1v1h-1zM748 208h1v1h-1zM749 207h1v1h-1zM750 205h1v2h-1zM751 204h1v1h-1zM752 203h1v1h-1zM753 202h1v1h-1zM754 201h1v1h-1zM755 200h1v1h-1zM756 199h1v1h-1zM757 198h1v1h-1zM758 197h1v1h-1zM759 196h1v1h-1zM760 195h1v1h-1zM761 194h1v1h-1zM762 193h1v1h-1zM763 192h1v1h-1zM764 191h1v1h-1zM765 190h1v1h-1zM766 189h1v1h-1zM767 189h1v1h-1zM768 188h1v1h-1zM769 187h1v1h-1zM770 187h1v1h-1zM771 186h1v1h-1zM772 185h1v1h-1zM773 185h1v1h-1zM774 184h1v1h-1zM775 184h1v1h-1zM776 183h1v1h-1zM777 182h1v1h-1zM778 182h1v1h-1zM779 181h1v1h-1zM780 180h1v1h-1zM781 180h1v1h-1zM782 179h1v1h-1zM783 179h1v1h-1zM784 178h1v1h-1zM785 178h1v1h-1zM786 177h1v1h-1zM787 176h1v1h-1zM788 176h1v1h-1zM789 175h1v1h-1zM790 175h1v1h-1zM791 174h1v1h-1zM792 174h1v1h-1zM793 173h1v1h-1zM794 173h1v1h-1zM795 172h1v1h-1zM796 172h1v1h-1zM797 171h1v1h-1zM798 171h1v1h-1zM799 171h1v1h-1zM800 170h1v1h-1zM801 170h1v1h-1zM802 170h1v1h-1zM803 170h1v1h-1zM804 170h1v1h-1zM805 170h1v1h-1zM806 169h1v1h-1zM807 169h1v1h-1zM808 169h1v1h-1zM809 169h1v1h-1zM810 168h1v1h-1zM811 168h1v1h-1zM812 168h1v1h-1zM813 168h1v1h-1zM814 168h1v1h-1zM815 168h1v1h-1zM816 167h1v1h-1zM817 167h1v1h-1zM818 167h1v1h-1zM819 166h1v1h-1zM820 166h1v1h-1zM821 166h1v1h-1zM822 166h1v1h-1zM823 165h1v1h-1zM824 165h1v1h-1zM825 165h1v1h-1zM826 165h1v1h-1zM827 164h1v1h-1zM828 164h1v1h-1zM829 164h1v1h-1zM830 164h1v1h-1zM831 163h1v1h-1zM832 163h1v1h-1zM833 163h1v1h-1zM834 163h1v1h-1zM835 162h1v1h-1zM836 162h1v1h-1zM837 162h1v1h-1zM838 162h1v1h-1zM839 162h1v1h-1zM840 162h1v1h-1zM841 161h1v1h-1zM842 161h1v1h-1zM843 161h1v1h-1zM844 161h1v1h-1zM845 160h1v1h-1zM846 160h1v1h-1zM847 160h1v1h-1zM848 160h1v1h-1zM849 160h1v1h-1zM850 160h1v1h-1zM851 159h1v1h-1zM852 159h1v1h-1zM853 159h1v1h-1zM854 159h1v1h-1zM855 159h1v1h-1zM856 159h1v1h-1zM857 159h1v1h-1zM858 159h1v1h-1zM859 159h1v1h-1zM860 159h1v1h-1zM861 159h1v1h-1zM862 158h1v1h-1zM863 158h1v1h-1zM864 158h1v1h-1zM865 158h1v1h-1zM866 158h1v1h-1zM867 158h1v1h-1zM868 158h1v1h-1zM869 159h1v1h-1zM870 159h1v1h-1zM871 159h1v1h-1zM872 160h1v1h-1zM873 160h1v1h-1zM874 161h1v1h-1zM875 161h1v1h-1zM876 161h1v1h-1zM877 162h1v1h-1zM878 162h1v1h-1zM879 162h1v1h-1zM880 162h1v1h-1zM881 162h1v1h-1zM882 163h1v1h-1zM883 163h1v1h-1zM884 163h1v1h-1zM885 163h1v1h-1zM886 164h1v1h-1zM887 165h1v1h-1zM888 166h1v1h-1zM889 167h1v1h-1zM890 168h1v1h-1zM891 169h1v1h-1zM892 170h1v1h-1zM893 171h1v1h-1zM894 172h1v1h-1zM895 172h1v1h-1zM896 173h1v2h-1zM897 175h1v1h-1zM898 176h1v1h-1zM899 177h1v1h-1zM900 178h1v1h-1zM901 179h1v1h-1zM902 180h1v1h-1zM903 181h1v1h-1zM904 182h1v1h-1zM905 183h1v1h-1zM906 184h1v1h-1zM907 185h1v1h-1zM908 186h1v1h-1zM909 187h1v1h-1zM910 188h1v1h-1zM911 189h1v2h-1zM912 191h1v1h-1zM913 192h1v1h-1zM914 193h1v1h-1zM915 194h1v1h-1zM916 195h1v1h-1zM917 196h1v1h-1zM918 197h1v2h-1zM919 199h1v1h-1zM920 200h1v1h-1zM921 201h1v1h-1zM922 202h1v1h-1zM923 203h1v2h-1zM924 205h1v1h-1zM925 206h1v1h-1zM926 207h1v1h-1zM927 208h1v1h-1zM928 209h1v1h-1zM929 210h1v1h-1zM930 211h1v1h-1zM931 212h1v1h-1zM932 213h1v1h-1zM933 214h1v1h-1zM934 215h1v1h-1zM935 216h1v1h-1zM936 217h1v1h-1zM937 218h1v1h-1zM938 219h1v1h-1zM939 220h1v1h-1zM940 221h1v1h-1zM941 222h1v1h-1zM942 223h1v2h-1zM943 225h1v1h-1zM944 226h1v2h-1zM945 228h1v1h-1zM946 229h1v1h-1zM947 230h1v1h-1zM948 231h1v1h-1zM949 232h1v1h-1zM950 233h1v1h-1zM951 234h1v1h-1zM952 234h1v1h-1zM953 235h1v2h-1zM954 237h1v1h-1zM955 238h1v2h-1zM956 240h1v1h-1zM957 241h1v1h-1zM958 242h1v1h-1zM959 243h1v2h-1zM960 245h1v1h-1zM961 246h1v1h-1zM962 247h1v2h-1zM963 249h1v1h-1zM964 250h1v1h-1zM965 251h1v2h-1zM966 252h1v1h-1zM967 253h1v2h-1zM968 254h1v1h-1zM969 255h1v1h-1zM970 256h1v1h-1zM971 256h1v1h-1zM972 257h1v1h-1z" fill="#0000cc" shape-rendering="crispEdges" clip-path="url(#cm)"/>
<g shape-rendering="crispEdges" clip-path="url(#cm)">
<rect x="5" y="389" width="1" height="26" fill="#32cd32" />
<rect x="3" y="391" width="5" height="24" fill="#32cd32" />
<rect x="13" y="336" width="1" height="83" fill="#ff0000" />
<rect x="11" y="337" width="5" height="79" fill="#ff0000" />
<rect x="12" y="338" width="3" height="77" fill="#ff4500" />
<rect x="21" y="315" width="1" height="61" fill="#32cd32" />
<rect x="19" y="338" width="5" height="36" fill="#32cd32" />
<rect x="29" y="358" width="1" height="21" fill="#32cd32" />
<rect x="27" y="373" width="5" height="3" fill="#32cd32" />
<rect x="37" y="357" width="1" height="41" fill="#32cd32" />
<rect x="35" y="374" width="5" height="15" fill="#32cd32" />
<rect x="45" y="340" width="1" height="50" fill="#ff0000" />
<rect x="43" y="341" width="5" height="48" fill="#ff0000" />
<rect x="44" y="342" width="3" height="46" fill="#ff4500" />
<rect x="53" y="334" width="1" height="19" fill="#32cd32" />
<rect x="51" y="341" width="5" height="3" fill="#32cd32" />
<rect x="61" y="303" width="1" height="44" fill="#ff0000" />
<rect x="59" y="306" width="5" height="37" fill="#ff0000" />
<rect x="60" y="307" width="3" height="35" fill="#ff4500" />
<rect x="69" y="268" width="1" height="59" fill="#ff0000" />
<rect x="67" y="272" width="5" height="35" fill="#ff0000" />
<rect x="68" y="273" width="3" height="33" fill="#ff4500" />
<rect x="77" y="257" width="1" height="30" fill="#32cd32" />
<rect x="75" y="272" width="5" height="14" fill="#32cd32" />
<rect x="85" y="260" width="1" height="115" fill="#32cd32" />
<rect x="83" y="285" width="5" height="79" fill="#32cd32" />
<rect x="93" y="336" width="1" height="39" fill="#ff0000" />
<rect x="91" y="350" width="5" height="14" fill="#ff0000" />
<rect x="92" y="351" width="3" height="12" fill="#ff4500" />
<rect x="101" y="303" width="1" height="51" fill="#ff0000" />
<rect x="99" y="304" width="5" height="47" fill="#ff0000" />
<rect x="100" y="305" width="3" height="45" fill="#ff4500" />
<rect x="109" y="184" width="1" height="127" fill="#ff0000" />
<rect x="107" y="198" width="5" height="108" fill="#ff0000" />
<rect x="108" y="199" width="3" height="106" fill="#ff4500" />
<rect x="117" y="189" width="1" height="64" fill="#32cd32" />
<rect x="115" y="198" width="5" height="45" fill="#32cd32" />
<rect x="125" y="241" width="1" height="75" fill="#32cd32" />
<rect x="123" y="241" width="5" height="53" fill="#32cd32" />
<rect x="133" y="185" width="1" height="121" fill="#ff0000" />
<rect x="131" y="207" width="5" height="87" fill="#ff0000" />
<rect x="132" y="208" width="3" height="85" fill="#ff4500" />
<rect x="141" y="205" width="1" height="44" fill="#32cd32" />
<rect x="139" y="210" width="5" height="33" fill="#32cd32" />
<rect x="149" y="230" width="1" height="24" fill="#ff0000" />
<rect x="147" y="231" width="5" height="12" fill="#ff0000" />
<rect x="148" y="232" width="3" height="10" fill="#ff4500" />
<rect x="157" y="203" width="1" height="97" fill="#32cd32" />
<rect x="155" y="231" width="5" height="57" fill="#32cd32" />
<rect x="165" y="275" width="1" height="44" fill="#32cd32" />
<rect x="163" y="287" width="5" height="31" fill="#32cd32" />
<rect x="173" y="294" width="1" height="53" fill="#ff0000" />
<rect x="171" y="295" width="5" height="23" fill="#ff0000" />
<rect x="172" y="296" width="3" height="21" fill="#ff4500" />
<rect x="181" y="286" width="1" height="93" fill="#32cd32" />
<rect x="179" y="295" width="5" height="73" fill="#32cd32" />
<rect x="189" y="334" width="1" height="40" fill="#ff0000" />
<rect x="187" y="338" width="5" height="32" fill="#ff0000" />
<rect x="188" y="339" width="3" height="30" fill="#ff4500" />
<rect x="197" y="330" width="1" height="22" fill="#32cd32" />
<rect x="195" y="338" width="5" height="12" fill="#32cd32" />
<rect x="205" y="300" width="1" height="60" fill="#ff0000" />
<rect x="203" y="315" width="5" height="35" fill="#ff0000" />
<rect x="204" y="316" width="3" height="33" fill="#ff4500" />
<rect x="213" y="258" width="1" height="79" fill="#ff0000" />
<rect x="211" y="275" width="5" height="41" fill="#ff0000" />
<rect x="212" y="276" width="3" height="39" fill="#ff4500" />
<rect x="221" y="266" width="1" height="54" fill="#32cd32" />
<rect x="219" y="275" width="5" height="24" fill="#32cd32" />
<rect x="229" y="284" width="1" height="47" fill="#32cd32" />
<rect x="227" y="298" width="5" height="25" fill="#32cd32" />
<rect x="237" y="295" width="1" height="37" fill="#ff0000" />
<rect x="235" y="321" width="5" height="1" fill="#ff0000" />
<rect x="245" y="287" width="1" height="42" fill="#ff0000" />
<rect x="243" y="300" width="5" height="7" fill="#ff0000" />
<rect x="244" y="301" width="3" height="5" fill="#ff4500" />
<rect x="253" y="292" width="1" height="30" fill="#32cd32" />
<rect x="251" y="301" width="5" height="11" fill="#32cd32" />
<rect x="261" y="308" width="1" height="41" fill="#32cd32" />
<rect x="259" y="311" width="5" height="32" fill="#32cd32" />
<rect x="269" y="327" width="1" height="31" fill="#ff0000" />
<rect x="267" y="341" width="5" height="2" fill="#ff0000" />
<rect x="277" y="296" width="1" height="47" fill="#ff0000" />
<rect x="275" y="308" width="5" height="35" fill="#ff0000" />
<rect x="276" y="309" width="3" height="33" fill="#ff4500" />
<rect x="285" y="301" width="1" height="98" fill="#32cd32" />
<rect x="283" y="308" width="5" height="85" fill="#32cd32" />
<rect x="293" y="339" width="1" height="70" fill="#ff0000" />
<rect x="291" y="349" width="5" height="45" fill="#ff0000" />
<rect x="292" y="350" width="3" height="43" fill="#ff4500" />
<rect x="301" y="334" width="1" height="23" fill="#ff0000" />
<rect x="299" y="344" width="5" height="6" fill="#ff0000" />
<rect x="300" y="345" width="3" height="4" fill="#ff4500" />
<rect x="309" y="310" width="1" height="52" fill="#ff0000" />
<rect x="307" y="314" width="5" height="31" fill="#ff0000" />
<rect x="308" y="315" width="3" height="29" fill="#ff4500" />
<rect x="317" y="262" width="1" height="113" fill="#ff0000" />
<rect x="315" y="264" width="5" height="51" fill="#ff0000" />
<rect x="316" y="265" width="3" height="49" fill="#ff4500" />
<rect x="325" y="265" width="1" height="58" fill="#32cd32" />
<rect x="323" y="265" width="5" height="54" fill="#32cd32" />
<rect x="333" y="234" width="1" height="86" fill="#ff0000" />
<rect x="331" y="242" width="5" height="77" fill="#ff0000" />
<rect x="332" y="243" width="3" height="75" fill="#ff4500" />
<rect x="341" y="220" width="1" height="57" fill="#ff0000" />
<rect x="339" y="222" width="5" height="21" fill="#ff0000" />
<rect x="340" y="223" width="3" height="19" fill="#ff4500" />
<rect x="349" y="214" width="1" height="27" fill="#32cd32" />
<rect x="347" y="223" width="5" height="3" fill="#32cd32" />
<rect x="357" y="209" width="1" height="61" fill="#ff0000" />
<rect x="355" y="217" width="5" height="9" fill="#ff0000" />
<rect x="356" y="218" width="3" height="7" fill="#ff4500" />
<rect x="365" y="204" width="1" height="54" fill="#32cd32" />
<rect x="363" y="216" width="5" height="18" fill="#32cd32" />
<rect x="373" y="229" width="1" height="38" fill="#32cd32" />
<rect x="371" y="233" width="5" height="30" fill="#32cd32" />
<rect x="381" y="242" width="1" height="30" fill="#ff0000" />
<rect x="379" y="254" width="5" height="8" fill="#ff0000" />
<rect x="380" y="255" width="3" height="6" fill="#ff4500" />
<rect x="389" y="240" width="1" height="27" fill="#32cd32" />
<rect x="387" y="257" width="5" height="7" fill="#32cd32" />
<rect x="397" y="254" width="1" height="32" fill="#32cd32" />
<rect x="395" y="263" width="5" height="14" fill="#32cd32" />
<rect x="405" y="236" width="1" height="46" fill="#ff0000" />
<rect x="403" y="242" width="5" height="35" fill="#ff0000" />
<rect x="404" y="243" width="3" height="33" fill="#ff4500" />
<rect x="413" y="215" width="1" height="62" fill="#32cd32" />
<rect x="411" y="243" width="5" height="22" fill="#32cd32" />
<rect x="421" y="237" width="1" height="42" fill="#32cd32" />
<rect x="419" y="263" width="5" height="4" fill="#32cd32" />
<rect x="429" y="225" width="1" height="52" fill="#ff0000" />
<rect x="427" y="235" width="5" height="31" fill="#ff0000" />
<rect x="428" y="236" width="3" height="29" fill="#ff4500" />
<rect x="437" y="213" width="1" height="22" fill="#ff0000" />
<rect x="435" y="219" width="5" height="16" fill="#ff0000" />
<rect x="436" y="220" width="3" height="14" fill="#ff4500" />
<rect x="445" y="212" width="1" height="40" fill="#32cd32" />
<rect x="443" y="224" width="5" height="24" fill="#32cd32" />
<rect x="453" y="167" width="1" height="85" fill="#ff0000" />
<rect x="451" y="184" width="5" height="64" fill="#ff0000" />
<rect x="452" y="185" width="3" height="62" fill="#ff4500" />
<rect x="461" y="173" width="1" height="111" fill="#32cd32" />
<rect x="459" y="184" width="5" height="77" fill="#32cd32" />
<rect x="469" y="258" width="1" height="127" fill="#32cd32" />
<rect x="467" y="261" width="5" height="121" fill="#32cd32" />
<rect x="477" y="366" width="1" height="43" fill="#32cd32" />
<rect x="475" y="380" width="5" height="13" fill="#32cd32" />
<rect x="485" y="378" width="1" height="59" fill="#32cd32" />
<rect x="483" y="391" width="5" height="17" fill="#32cd32" />
<rect x="493" y="379" width="1" height="83" fill="#ff0000" />
<rect x="491" y="384" width="5" height="22" fill="#ff0000" />
<rect x="492" y="385" width="3" height="20" fill="#ff4500" />
<rect x="501" y="355" width="1" height="35" fill="#ff0000" />
<rect x="499" y="362" width="5" height="23" fill="#ff0000" />
<rect x="500" y="363" width="3" height="21" fill="#ff4500" />
<rect x="509" y="343" width="1" height="48" fill="#32cd32" />
<rect x="507" y="362" width="5" height="7" fill="#32cd32" />
<rect x="517" y="362" width="1" height="55" fill="#32cd32" />
<rect x="515" y="368" width="5" height="8" fill="#32cd32" />
<rect x="525" y="304" width="1" height="66" fill="#ff0000" />
<rect x="523" y="330" width="5" height="40" fill="#ff0000" />
<rect x="524" y="331" width="3" height="38" fill="#ff4500" />
<rect x="533" y="302" width="1" height="45" fill="#32cd32" />
<rect x="531" y="330" width="5" height="2" fill="#32cd32" />
<rect x="541" y="300" width="1" height="36" fill="#ff0000" />
<rect x="539" y="322" width="5" height="11" fill="#ff0000" />
<rect x="540" y="323" width="3" height="9" fill="#ff4500" />
<rect x="549" y="321" width="1" height="24" fill="#32cd32" />
<rect x="547" y="322" width="5" height="8" fill="#32cd32" />
<rect x="557" y="289" width="1" height="43" fill="#ff0000" />
<rect x="555" y="312" width="5" height="18" fill="#ff0000" />
<rect x="556" y="313" width="3" height="16" fill="#ff4500" />
<rect x="565" y="294" width="1" height="110" fill="#32cd32" />
<rect x="563" y="312" width="5" height="81" fill="#32cd32" />
<rect x="573" y="302" width="1" height="103" fill="#ff0000" />
<rect x="571" y="302" width="5" height="90" fill="#ff0000" />
<rect x="572" y="303" width="3" height="88" fill="#ff4500" />
<rect x="581" y="291" width="1" height="39" fill="#32cd32" />
<rect x="579" y="302" width="5" height="17" fill="#32cd32" />
<rect x="589" y="282" width="1" height="30" fill="#ff0000" />
<rect x="587" y="287" width="5" height="25" fill="#ff0000" />
<rect x="588" y="288" width="3" height="23" fill="#ff4500" />
<rect x="597" y="271" width="1" height="26" fill="#32cd32" />
<rect x="595" y="287" width="5" height="6" fill="#32cd32" />
<rect x="605" y="243" width="1" height="61" fill="#ff0000" />
<rect x="603" y="258" width="5" height="36" fill="#ff0000" />
<rect x="604" y="259" width="3" height="34" fill="#ff4500" />
<rect x="613" y="204" width="1" height="63" fill="#ff0000" />
<rect x="611" y="212" width="5" height="46" fill="#ff0000" />
<rect x="612" y="213" width="3" height="44" fill="#ff4500" />
<rect x="621" y="207" width="1" height="28" fill="#32cd32" />
<rect x="619" y="208" width="5" height="12" fill="#32cd32" />
<rect x="629" y="189" width="1" height="38" fill="#ff0000" />
<rect x="627" y="194" width="5" height="26" fill="#ff0000" />
<rect x="628" y="195" width="3" height="24" fill="#ff4500" />
<rect x="637" y="186" width="1" height="68" fill="#32cd32" />
<rect x="635" y="193" width="5" height="47" fill="#32cd32" />
<rect x="645" y="232" width="1" height="37" fill="#32cd32" />
<rect x="643" y="239" width="5" height="8" fill="#32cd32" />
<rect x="653" y="223" width="1" height="44" fill="#ff0000" />
<rect x="651" y="246" width="5" height="2" fill="#ff0000" />
<rect x="661" y="210" width="1" height="74" fill="#32cd32" />
<rect x="659" y="247" width="5" height="12" fill="#32cd32" />
<rect x="669" y="250" width="1" height="29" fill="#ff0000" />
<rect x="667" y="253" width="5" height="6" fill="#ff0000" />
<rect x="668" y="254" width="3" height="4" fill="#ff4500" />
<rect x="677" y="226" width="1" height="36" fill="#ff0000" />
<rect x="675" y="252" width="5" height="3" fill="#ff0000" />
<rect x="676" y="253" width="3" height="1" fill="#ff4500" />
<rect x="685" y="215" width="1" height="48" fill="#ff0000" />
<rect x="683" y="238" width="5" height="15" fill="#ff0000" />
<rect x="684" y="239" width="3" height="13" fill="#ff4500" />
<rect x="693" y="217" width="1" height="21" fill="#ff0000" />
<rect x="691" y="226" width="5" height="12" fill="#ff0000" />
<rect x="692" y="227" width="3" height="10" fill="#ff4500" />
<rect x="701" y="196" width="1" height="52" fill="#32cd32" />
<rect x="699" y="227" width="5" height="11" fill="#32cd32" />
<rect x="709" y="122" width="1" height="136" fill="#ff0000" />
<rect x="707" y="123" width="5" height="114" fill="#ff0000" />
<rect x="708" y="124" width="3" height="112" fill="#ff4500" />
<rect x="717" y="98" width="1" height="51" fill="#32cd32" />
<rect x="715" y="123" width="5" height="23" fill="#32cd32" />
<rect x="725" y="71" width="1" height="77" fill="#ff0000" />
<rect x="723" y="94" width="5" height="52" fill="#ff0000" />
<rect x="724" y="95" width="3" height="50" fill="#ff4500" />
<rect x="733" y="66" width="1" height="31" fill="#ff0000" />
<rect x="731" y="76" width="5" height="19" fill="#ff0000" />
<rect x="732" y="77" width="3" height="17" fill="#ff4500" />
<rect x="741" y="52" width="1" height="31" fill="#32cd32" />
<rect x="739" y="76" width="5" height="5" fill="#32cd32" />
<rect x="749" y="71" width="1" height="64" fill="#32cd32" />
<rect x="747" y="80" width="5" height="39" fill="#32cd32" />
<rect x="757" y="91" width="1" height="46" fill="#32cd32" />
<rect x="755" y="118" width="5" height="4" fill="#32cd32" />
<rect x="765" y="119" width="1" height="20" fill="#32cd32" />
<rect x="763" y="121" width="5" height="6" fill="#32cd32" />
<rect x="773" y="125" width="1" height="62" fill="#32cd32" />
<rect x="771" y="126" width="5" height="37" fill="#32cd32" />
<rect x="781" y="123" width="1" height="47" fill="#ff0000" />
<rect x="779" y="127" width="5" height="36" fill="#ff0000" />
<rect x="780" y="128" width="3" height="34" fill="#ff4500" />
<rect x="789" y="113" width="1" height="22" fill="#ff0000" />
<rect x="787" y="126" width="5" height="2" fill="#ff0000" />
<rect x="797" y="99" width="1" height="38" fill="#ff0000" />
<rect x="795" y="107" width="5" height="21" fill="#ff0000" />
<rect x="796" y="108" width="3" height="19" fill="#ff4500" />
<rect x="805" y="104" width="1" height="124" fill="#32cd32" />
<rect x="803" y="107" width="5" height="103" fill="#32cd32" />
<rect x="813" y="191" width="1" height="31" fill="#ff0000" />
<rect x="811" y="197" width="5" height="13" fill="#ff0000" />
<rect x="812" y="198" width="3" height="11" fill="#ff4500" />
<rect x="821" y="185" width="1" height="35" fill="#32cd32" />
<rect x="819" y="197" width="5" height="20" fill="#32cd32" />
<rect x="829" y="197" width="1" height="29" fill="#ff0000" />
<rect x="827" y="214" width="5" height="4" fill="#ff0000" />
<rect x="828" y="215" width="3" height="2" fill="#ff4500" />
<rect x="837" y="191" width="1" height="25" fill="#ff0000" />
<rect x="835" y="202" width="5" height="13" fill="#ff0000" />
<rect x="836" y="203" width="3" height="11" fill="#ff4500" />
<rect x="845" y="190" width="1" height="50" fill="#32cd32" />
<rect x="843" y="201" width="5" height="22" fill="#32cd32" />
<rect x="853" y="203" width="1" height="34" fill="#ff0000" />
<rect x="851" y="215" width="5" height="8" fill="#ff0000" />
<rect x="852" y="216" width="3" height="6" fill="#ff4500" />
<rect x="861" y="192" width="1" height="29" fill="#ff0000" />
<rect x="859" y="213" width="5" height="3" fill="#ff0000" />
<rect x="860" y="214" width="3" height="1" fill="#ff4500" />
<rect x="869" y="193" width="1" height="27" fill="#32cd32" />
<rect x="867" y="213" width="5" height="4" fill="#32cd32" />
<rect x="877" y="178" width="1" height="42" fill="#ff0000" />
<rect x="875" y="188" width="5" height="29" fill="#ff0000" />
<rect x="876" y="189" width="3" height="27" fill="#ff4500" />
<rect x="885" y="184" width="1" height="23" fill="#32cd32" />
<rect x="883" y="187" width="5" height="13" fill="#32cd32" />
<rect x="893" y="189" width="1" height="94" fill="#32cd32" />
<rect x="891" y="199" width="5" height="74" fill="#32cd32" />
<rect x="901" y="232" width="1" height="68" fill="#ff0000" />
<rect x="899" y="234" width="5" height="39" fill="#ff0000" />
<rect x="900" y="235" width="3" height="37" fill="#ff4500" />
<rect x="909" y="233" width="1" height="41" fill="#32cd32" />
<rect x="907" y="233" width="5" height="25" fill="#32cd32" />
<rect x="917" y="255" width="1" height="93" fill="#32cd32" />
<rect x="915" y="256" width="5" height="61" fill="#32cd32" />
<rect x="925" y="291" width="1" height="35" fill="#32cd32" />
<rect x="923" y="316" width="5" height="2" fill="#32cd32" />
<rect x="933" y="295" width="1" height="30" fill="#32cd32" />
<rect x="931" y="316" width="5" height="7" fill="#32cd32" />
<rect x="941" y="280" width="1" height="53" fill="#ff0000" />
<rect x="939" y="318" width="5" height="5" fill="#ff0000" />
<rect x="940" y="319" width="3" height="3" fill="#ff4500" />
<rect x="949" y="314" width="1" height="40" fill="#32cd32" />
<rect x="947" y="319" width="5" height="4" fill="#32cd32" />
<rect x="957" y="312" width="1" height="20" fill="#32cd32" />
<rect x="955" y="323" width="5" height="5" fill="#32cd32" />
<rect x="965" y="302" width="1" height="27" fill="#ff0000" />
<rect x="963" y="322" width="5" height="6" fill="#ff0000" />
<rect x="964" y="323" width="3" height="4" fill="#ff4500" />
<rect x="973" y="315" width="1" height="20" fill="#32cd32" />
<rect x="971" y="322" width="5" height="5" fill="#32cd32" />
</g>
<g shape-rendering="crispEdges">
<rect x="414" y="183" width="622" height="2" fill="#96c80a" />
<rect x="700" y="101" width="328" height="2" fill="#fa2020" />
<rect x="290" y="405" width="757" height="2" fill="#1e82dc" />
</g>
<g shape-rendering="crispEdges">
<rect x="1232" y="321" width="41" height="11" fill="#000" />
</g>
<text x="1236.5" y="330" font-size="10.0" fill="#fff" textLength="32.5" lengthAdjust="spacingAndGlyphs" stroke="#fff" stroke-width="0.15" >1.13942</text>
<clipPath id="cq"><rect x="5" y="476" width="1225" height="95"/></clipPath>
<g shape-rendering="crispEdges" clip-path="url(#cq)">
<rect x="4" y="531" width="3" height="7" fill="#c0c0c0" />
<rect x="12" y="530" width="3" height="1" fill="#c0c0c0" />
<rect x="20" y="528" width="3" height="3" fill="#c0c0c0" />
<rect x="28" y="526" width="3" height="5" fill="#c0c0c0" />
<rect x="36" y="526" width="3" height="5" fill="#c0c0c0" />
<rect x="44" y="522" width="3" height="9" fill="#c0c0c0" />
<rect x="52" y="519" width="3" height="12" fill="#c0c0c0" />
<rect x="60" y="514" width="3" height="17" fill="#c0c0c0" />
<rect x="68" y="507" width="3" height="24" fill="#c0c0c0" />
<rect x="76" y="504" width="3" height="27" fill="#c0c0c0" />
<rect x="84" y="507" width="3" height="24" fill="#c0c0c0" />
<rect x="92" y="509" width="3" height="22" fill="#c0c0c0" />
<rect x="100" y="508" width="3" height="23" fill="#c0c0c0" />
<rect x="108" y="498" width="3" height="33" fill="#c0c0c0" />
<rect x="116" y="494" width="3" height="37" fill="#c0c0c0" />
<rect x="124" y="496" width="3" height="35" fill="#c0c0c0" />
<rect x="132" y="491" width="3" height="40" fill="#c0c0c0" />
<rect x="140" y="490" width="3" height="41" fill="#c0c0c0" />
<rect x="148" y="489" width="3" height="42" fill="#c0c0c0" />
<rect x="156" y="493" width="3" height="38" fill="#c0c0c0" />
<rect x="164" y="499" width="3" height="32" fill="#c0c0c0" />
<rect x="172" y="502" width="3" height="29" fill="#c0c0c0" />
<rect x="180" y="511" width="3" height="20" fill="#c0c0c0" />
<rect x="188" y="516" width="3" height="15" fill="#c0c0c0" />
<rect x="196" y="520" width="3" height="11" fill="#c0c0c0" />
<rect x="204" y="522" width="3" height="9" fill="#c0c0c0" />
<rect x="212" y="519" width="3" height="12" fill="#c0c0c0" />
<rect x="220" y="520" width="3" height="11" fill="#c0c0c0" />
<rect x="228" y="522" width="3" height="9" fill="#c0c0c0" />
<rect x="236" y="524" width="3" height="7" fill="#c0c0c0" />
<rect x="244" y="524" width="3" height="7" fill="#c0c0c0" />
<rect x="252" y="524" width="3" height="7" fill="#c0c0c0" />
<rect x="260" y="527" width="3" height="4" fill="#c0c0c0" />
<rect x="268" y="530" width="3" height="1" fill="#c0c0c0" />
<rect x="276" y="529" width="3" height="2" fill="#c0c0c0" />
<rect x="284" y="531" width="3" height="5" fill="#c0c0c0" />
<rect x="292" y="531" width="3" height="7" fill="#c0c0c0" />
<rect x="300" y="531" width="3" height="7" fill="#c0c0c0" />
<rect x="308" y="531" width="3" height="5" fill="#c0c0c0" />
<rect x="316" y="530" width="3" height="1" fill="#c0c0c0" />
<rect x="324" y="530" width="3" height="1" fill="#c0c0c0" />
<rect x="332" y="524" width="3" height="7" fill="#c0c0c0" />
<rect x="340" y="517" width="3" height="14" fill="#c0c0c0" />
<rect x="348" y="513" width="3" height="18" fill="#c0c0c0" />
<rect x="356" y="509" width="3" height="22" fill="#c0c0c0" />
<rect x="364" y="507" width="3" height="24" fill="#c0c0c0" />
<rect x="372" y="509" width="3" height="22" fill="#c0c0c0" />
<rect x="380" y="509" width="3" height="22" fill="#c0c0c0" />
<rect x="388" y="511" width="3" height="20" fill="#c0c0c0" />
<rect x="396" y="512" width="3" height="19" fill="#c0c0c0" />
<rect x="404" y="513" width="3" height="18" fill="#c0c0c0" />
<rect x="412" y="514" width="3" height="17" fill="#c0c0c0" />
<rect x="420" y="516" width="3" height="15" fill="#c0c0c0" />
<rect x="428" y="514" width="3" height="17" fill="#c0c0c0" />
<rect x="436" y="512" width="3" height="19" fill="#c0c0c0" />
<rect x="444" y="514" width="3" height="17" fill="#c0c0c0" />
<rect x="452" y="509" width="3" height="22" fill="#c0c0c0" />
<rect x="460" y="513" width="3" height="18" fill="#c0c0c0" />
<rect x="468" y="525" width="3" height="6" fill="#c0c0c0" />
<rect x="476" y="531" width="3" height="5" fill="#c0c0c0" />
<rect x="484" y="531" width="3" height="15" fill="#c0c0c0" />
<rect x="492" y="531" width="3" height="20" fill="#c0c0c0" />
<rect x="500" y="531" width="3" height="22" fill="#c0c0c0" />
<rect x="508" y="531" width="3" height="24" fill="#c0c0c0" />
<rect x="516" y="531" width="3" height="26" fill="#c0c0c0" />
<rect x="524" y="531" width="3" height="24" fill="#c0c0c0" />
<rect x="532" y="531" width="3" height="22" fill="#c0c0c0" />
<rect x="540" y="531" width="3" height="19" fill="#c0c0c0" />
<rect x="548" y="531" width="3" height="17" fill="#c0c0c0" />
<rect x="556" y="531" width="3" height="15" fill="#c0c0c0" />
<rect x="564" y="531" width="3" height="19" fill="#c0c0c0" />
<rect x="572" y="531" width="3" height="14" fill="#c0c0c0" />
<rect x="580" y="531" width="3" height="12" fill="#c0c0c0" />
<rect x="588" y="531" width="3" height="8" fill="#c0c0c0" />
<rect x="596" y="531" width="3" height="5" fill="#c0c0c0" />
<rect x="604" y="530" width="3" height="1" fill="#c0c0c0" />
<rect x="612" y="522" width="3" height="9" fill="#c0c0c0" />
<rect x="620" y="517" width="3" height="14" fill="#c0c0c0" />
<rect x="628" y="510" width="3" height="21" fill="#c0c0c0" />
<rect x="636" y="510" width="3" height="21" fill="#c0c0c0" />
<rect x="644" y="510" width="3" height="21" fill="#c0c0c0" />
<rect x="652" y="510" width="3" height="21" fill="#c0c0c0" />
<rect x="660" y="512" width="3" height="19" fill="#c0c0c0" />
<rect x="668" y="512" width="3" height="19" fill="#c0c0c0" />
<rect x="676" y="514" width="3" height="17" fill="#c0c0c0" />
<rect x="684" y="513" width="3" height="18" fill="#c0c0c0" />
<rect x="692" y="512" width="3" height="19" fill="#c0c0c0" />
<rect x="700" y="513" width="3" height="18" fill="#c0c0c0" />
<rect x="708" y="504" width="3" height="27" fill="#c0c0c0" />
<rect x="716" y="499" width="3" height="32" fill="#c0c0c0" />
<rect x="724" y="492" width="3" height="39" fill="#c0c0c0" />
<rect x="732" y="485" width="3" height="46" fill="#c0c0c0" />
<rect x="740" y="481" width="3" height="50" fill="#c0c0c0" />
<rect x="748" y="481" width="3" height="50" fill="#c0c0c0" />
<rect x="756" y="482" width="3" height="49" fill="#c0c0c0" />
<rect x="764" y="483" width="3" height="48" fill="#c0c0c0" />
<rect x="772" y="488" width="3" height="43" fill="#c0c0c0" />
<rect x="780" y="490" width="3" height="41" fill="#c0c0c0" />
<rect x="788" y="491" width="3" height="40" fill="#c0c0c0" />
<rect x="796" y="491" width="3" height="40" fill="#c0c0c0" />
<rect x="804" y="500" width="3" height="31" fill="#c0c0c0" />
<rect x="812" y="506" width="3" height="25" fill="#c0c0c0" />
<rect x="820" y="513" width="3" height="18" fill="#c0c0c0" />
<rect x="828" y="518" width="3" height="13" fill="#c0c0c0" />
<rect x="836" y="521" width="3" height="10" fill="#c0c0c0" />
<rect x="844" y="525" width="3" height="6" fill="#c0c0c0" />
<rect x="852" y="528" width="3" height="3" fill="#c0c0c0" />
<rect x="860" y="530" width="3" height="1" fill="#c0c0c0" />
<rect x="868" y="531" width="3" height="2" fill="#c0c0c0" />
<rect x="876" y="531" width="3" height="1" fill="#c0c0c0" />
<rect x="884" y="531" width="3" height="2" fill="#c0c0c0" />
<rect x="892" y="531" width="3" height="8" fill="#c0c0c0" />
<rect x="900" y="531" width="3" height="9" fill="#c0c0c0" />
<rect x="908" y="531" width="3" height="12" fill="#c0c0c0" />
<rect x="916" y="531" width="3" height="19" fill="#c0c0c0" />
<rect x="924" y="531" width="3" height="25" fill="#c0c0c0" />
<rect x="932" y="531" width="3" height="29" fill="#c0c0c0" />
<rect x="940" y="531" width="3" height="32" fill="#c0c0c0" />
<rect x="948" y="531" width="3" height="34" fill="#c0c0c0" />
<rect x="956" y="531" width="3" height="35" fill="#c0c0c0" />
<rect x="964" y="531" width="3" height="36" fill="#c0c0c0" />
<rect x="972" y="531" width="3" height="36" fill="#c0c0c0" />
</g>
<path d="M5 548h1v1h-1zM6 548h1v1h-1zM7 548h1v1h-1zM8 547h1v1h-1zM9 547h1v1h-1zM10 546h1v1h-1zM11 546h1v1h-1zM12 546h1v1h-1zM13 545h1v1h-1zM14 545h1v1h-1zM15 544h1v1h-1zM16 544h1v1h-1zM17 544h1v1h-1zM18 543h1v1h-1zM19 543h1v1h-1zM20 542h1v1h-1zM21 542h1v1h-1zM22 542h1v1h-1zM23 541h1v1h-1zM24 541h1v1h-1zM25 540h1v1h-1zM26 540h1v1h-1zM27 540h1v1h-1zM28 539h1v1h-1zM29 539h1v1h-1zM30 538h1v1h-1zM31 538h1v1h-1zM32 538h1v1h-1zM33 538h1v1h-1zM34 537h1v1h-1zM35 537h1v1h-1zM36 537h1v1h-1zM37 536h1v1h-1zM38 536h1v1h-1zM39 536h1v1h-1zM40 535h1v1h-1zM41 535h1v1h-1zM42 535h1v1h-1zM43 534h1v1h-1zM44 534h1v1h-1zM45 534h1v1h-1zM46 533h1v1h-1zM47 533h1v1h-1zM48 533h1v1h-1zM49 532h1v1h-1zM50 532h1v1h-1zM51 532h1v1h-1zM52 531h1v1h-1zM53 531h1v1h-1zM54 530h1v1h-1zM55 530h1v1h-1zM56 529h1v1h-1zM57 529h1v1h-1zM58 528h1v1h-1zM59 528h1v1h-1zM60 528h1v1h-1zM61 527h1v1h-1zM62 527h1v1h-1zM63 526h1v1h-1zM64 526h1v1h-1zM65 525h1v1h-1zM66 525h1v1h-1zM67 524h1v1h-1zM68 524h1v1h-1zM69 523h1v1h-1zM70 523h1v1h-1zM71 523h1v1h-1zM72 522h1v1h-1zM73 522h1v1h-1zM74 522h1v1h-1zM75 521h1v1h-1zM76 521h1v1h-1zM77 521h1v1h-1zM78 520h1v1h-1zM79 520h1v1h-1zM80 520h1v1h-1zM81 519h1v1h-1zM82 519h1v1h-1zM83 518h1v1h-1zM84 518h1v1h-1zM85 518h1v1h-1zM86 517h1v1h-1zM87 517h1v1h-1zM88 517h1v1h-1zM89 516h1v1h-1zM90 516h1v1h-1zM91 516h1v1h-1zM92 515h1v1h-1zM93 515h1v1h-1zM94 515h1v1h-1zM95 514h1v1h-1zM96 514h1v1h-1zM97 514h1v1h-1zM98 514h1v1h-1zM99 513h1v1h-1zM100 513h1v1h-1zM101 513h1v1h-1zM102 512h1v1h-1zM103 512h1v1h-1zM104 512h1v1h-1zM105 512h1v1h-1zM106 511h1v1h-1zM107 511h1v1h-1zM108 511h1v1h-1zM109 510h1v1h-1zM110 510h1v1h-1zM111 510h1v1h-1zM112 509h1v1h-1zM113 509h1v1h-1zM114 509h1v1h-1zM115 508h1v1h-1zM116 508h1v1h-1zM117 508h1v1h-1zM118 507h1v1h-1zM119 507h1v1h-1zM120 506h1v1h-1zM121 506h1v1h-1zM122 506h1v1h-1zM123 505h1v1h-1zM124 505h1v1h-1zM125 505h1v1h-1zM126 504h1v1h-1zM127 504h1v1h-1zM128 504h1v1h-1zM129 503h1v1h-1zM130 503h1v1h-1zM131 503h1v1h-1zM132 502h1v1h-1zM133 502h1v1h-1zM134 502h1v1h-1zM135 502h1v1h-1zM136 502h1v1h-1zM137 501h1v1h-1zM138 501h1v1h-1zM139 501h1v1h-1zM140 500h1v1h-1zM141 500h1v1h-1zM142 500h1v1h-1zM143 500h1v1h-1zM144 500h1v1h-1zM145 499h1v1h-1zM146 499h1v1h-1zM147 499h1v1h-1zM148 498h1v1h-1zM149 498h1v1h-1zM150 498h1v1h-1zM151 498h1v1h-1zM152 498h1v1h-1zM153 497h1v1h-1zM154 497h1v1h-1zM155 497h1v1h-1zM156 497h1v1h-1zM157 496h1v1h-1zM158 496h1v1h-1zM159 496h1v1h-1zM160 496h1v1h-1zM161 495h1v1h-1zM162 495h1v1h-1zM163 495h1v1h-1zM164 495h1v1h-1zM165 495h1v1h-1zM166 495h1v1h-1zM167 495h1v1h-1zM168 495h1v1h-1zM169 495h1v1h-1zM170 495h1v1h-1zM171 495h1v1h-1zM172 495h1v1h-1zM173 495h1v1h-1zM174 495h1v1h-1zM175 495h1v1h-1zM176 495h1v1h-1zM177 495h1v1h-1zM178 496h1v1h-1zM179 496h1v1h-1zM180 496h1v1h-1zM181 496h1v1h-1zM182 497h1v1h-1zM183 497h1v1h-1zM184 497h1v1h-1zM185 498h1v1h-1zM186 498h1v1h-1zM187 498h1v1h-1zM188 498h1v1h-1zM189 499h1v1h-1zM190 499h1v1h-1zM191 499h1v1h-1zM192 500h1v1h-1zM193 500h1v1h-1zM194 500h1v1h-1zM195 500h1v1h-1zM196 501h1v1h-1zM197 501h1v1h-1zM198 501h1v1h-1zM199 502h1v1h-1zM200 502h1v1h-1zM201 502h1v1h-1zM202 503h1v1h-1zM203 503h1v1h-1zM204 504h1v1h-1zM205 504h1v1h-1zM206 505h1v1h-1zM207 505h1v1h-1zM208 506h1v1h-1zM209 506h1v1h-1zM210 507h1v1h-1zM211 507h1v1h-1zM212 508h1v1h-1zM213 508h1v1h-1zM214 509h1v1h-1zM215 509h1v1h-1zM216 509h1v1h-1zM217 510h1v1h-1zM218 510h1v1h-1zM219 511h1v1h-1zM220 511h1v1h-1zM221 511h1v1h-1zM222 512h1v1h-1zM223 512h1v1h-1zM224 513h1v1h-1zM225 513h1v1h-1zM226 513h1v1h-1zM227 514h1v1h-1zM228 514h1v1h-1zM229 515h1v1h-1zM230 515h1v1h-1zM231 515h1v1h-1zM232 516h1v1h-1zM233 516h1v1h-1zM234 516h1v1h-1zM235 517h1v1h-1zM236 517h1v1h-1zM237 517h1v1h-1zM238 518h1v1h-1zM239 518h1v1h-1zM240 518h1v1h-1zM241 519h1v1h-1zM242 519h1v1h-1zM243 519h1v1h-1zM244 520h1v1h-1zM245 520h1v1h-1zM246 520h1v1h-1zM247 520h1v1h-1zM248 520h1v1h-1zM249 521h1v1h-1zM250 521h1v1h-1zM251 521h1v1h-1zM252 521h1v1h-1zM253 521h1v1h-1zM254 521h1v1h-1zM255 521h1v1h-1zM256 521h1v1h-1zM257 522h1v1h-1zM258 522h1v1h-1zM259 522h1v1h-1zM260 522h1v1h-1zM261 522h1v1h-1zM262 522h1v1h-1zM263 523h1v1h-1zM264 523h1v1h-1zM265 523h1v1h-1zM266 523h1v1h-1zM267 523h1v1h-1zM268 524h1v1h-1zM269 524h1v1h-1zM270 524h1v1h-1zM271 524h1v1h-1zM272 524h1v1h-1zM273 524h1v1h-1zM274 524h1v1h-1zM275 524h1v1h-1zM276 525h1v1h-1zM277 525h1v1h-1zM278 525h1v1h-1zM279 525h1v1h-1zM280 525h1v1h-1zM281 525h1v1h-1zM282 525h1v1h-1zM283 526h1v1h-1zM284 526h1v1h-1zM285 526h1v1h-1zM286 526h1v1h-1zM287 526h1v1h-1zM288 527h1v1h-1zM289 527h1v1h-1zM290 527h1v1h-1zM291 527h1v1h-1zM292 528h1v1h-1zM293 528h1v1h-1zM294 528h1v1h-1zM295 528h1v1h-1zM296 529h1v1h-1zM297 529h1v1h-1zM298 529h1v1h-1zM299 530h1v1h-1zM300 530h1v1h-1zM301 530h1v1h-1zM302 530h1v1h-1zM303 530h1v1h-1zM304 531h1v1h-1zM305 531h1v1h-1zM306 531h1v1h-1zM307 531h1v1h-1zM308 531h1v1h-1zM309 531h1v1h-1zM310 531h1v1h-1zM311 531h1v1h-1zM312 532h1v1h-1zM313 532h1v1h-1zM314 532h1v1h-1zM315 532h1v1h-1zM316 532h1v1h-1zM317 532h1v1h-1zM318 532h1v1h-1zM319 532h1v1h-1zM320 532h1v1h-1zM321 532h1v1h-1zM322 532h1v1h-1zM323 532h1v1h-1zM324 532h1v1h-1zM325 532h1v1h-1zM326 532h1v1h-1zM327 532h1v1h-1zM328 532h1v1h-1zM329 532h1v1h-1zM330 532h1v1h-1zM331 532h1v1h-1zM332 532h1v1h-1zM333 532h1v1h-1zM334 532h1v1h-1zM335 532h1v1h-1zM336 532h1v1h-1zM337 532h1v1h-1zM338 531h1v1h-1zM339 531h1v1h-1zM340 531h1v1h-1zM341 531h1v1h-1zM342 531h1v1h-1zM343 530h1v1h-1zM344 530h1v1h-1zM345 530h1v1h-1zM346 530h1v1h-1zM347 530h1v1h-1zM348 529h1v1h-1zM349 529h1v1h-1zM350 529h1v1h-1zM351 529h1v1h-1zM352 528h1v1h-1zM353 528h1v1h-1zM354 527h1v1h-1zM355 527h1v1h-1zM356 527h1v1h-1zM357 526h1v1h-1zM358 526h1v1h-1zM359 525h1v1h-1zM360 525h1v1h-1zM361 525h1v1h-1zM362 524h1v1h-1zM363 524h1v1h-1zM364 523h1v1h-1zM365 523h1v1h-1zM366 523h1v1h-1zM367 522h1v1h-1zM368 522h1v1h-1zM369 521h1v1h-1zM370 521h1v1h-1zM371 521h1v1h-1zM372 520h1v1h-1zM373 520h1v1h-1zM374 519h1v1h-1zM375 519h1v1h-1zM376 519h1v1h-1zM377 518h1v1h-1zM378 518h1v1h-1zM379 517h1v1h-1zM380 517h1v1h-1zM381 517h1v1h-1zM382 516h1v1h-1zM383 516h1v1h-1zM384 516h1v1h-1zM385 516h1v1h-1zM386 515h1v1h-1zM387 515h1v1h-1zM388 515h1v1h-1zM389 515h1v1h-1zM390 514h1v1h-1zM391 514h1v1h-1zM392 514h1v1h-1zM393 514h1v1h-1zM394 513h1v1h-1zM395 513h1v1h-1zM396 513h1v1h-1zM397 513h1v1h-1zM398 513h1v1h-1zM399 512h1v1h-1zM400 512h1v1h-1zM401 512h1v1h-1zM402 512h1v1h-1zM403 512h1v1h-1zM404 512h1v1h-1zM405 512h1v1h-1zM406 512h1v1h-1zM407 512h1v1h-1zM408 512h1v1h-1zM409 512h1v1h-1zM410 512h1v1h-1zM411 512h1v1h-1zM412 512h1v1h-1zM413 512h1v1h-1zM414 512h1v1h-1zM415 512h1v1h-1zM416 512h1v1h-1zM417 512h1v1h-1zM418 512h1v1h-1zM419 512h1v1h-1zM420 512h1v1h-1zM421 512h1v1h-1zM422 512h1v1h-1zM423 512h1v1h-1zM424 512h1v1h-1zM425 512h1v1h-1zM426 512h1v1h-1zM427 512h1v1h-1zM428 512h1v1h-1zM429 512h1v1h-1zM430 512h1v1h-1zM431 512h1v1h-1zM432 512h1v1h-1zM433 512h1v1h-1zM434 512h1v1h-1zM435 512h1v1h-1zM436 513h1v1h-1zM437 513h1v1h-1zM438 513h1v1h-1zM439 513h1v1h-1zM440 513h1v1h-1zM441 513h1v1h-1zM442 513h1v1h-1zM443 513h1v1h-1zM444 513h1v1h-1zM445 513h1v1h-1zM446 513h1v1h-1zM447 513h1v1h-1zM448 513h1v1h-1zM449 513h1v1h-1zM450 513h1v1h-1zM451 513h1v1h-1zM452 513h1v1h-1zM453 513h1v1h-1zM454 513h1v1h-1zM455 513h1v1h-1zM456 513h1v1h-1zM457 513h1v1h-1zM458 513h1v1h-1zM459 513h1v1h-1zM460 513h1v1h-1zM461 513h1v1h-1zM462 513h1v1h-1zM463 513h1v1h-1zM464 513h1v1h-1zM465 513h1v1h-1zM466 513h1v1h-1zM467 514h1v1h-1zM468 514h1v1h-1zM469 514h1v1h-1zM470 515h1v1h-1zM471 515h1v1h-1zM472 515h1v1h-1zM473 516h1v1h-1zM474 516h1v1h-1zM475 516h1v1h-1zM476 517h1v1h-1zM477 517h1v1h-1zM478 518h1v1h-1zM479 518h1v1h-1zM480 518h1v1h-1zM481 519h1v1h-1zM482 519h1v1h-1zM483 519h1v1h-1zM484 520h1v1h-1zM485 520h1v1h-1zM486 521h1v1h-1zM487 521h1v1h-1zM488 521h1v1h-1zM489 522h1v1h-1zM490 522h1v1h-1zM491 523h1v1h-1zM492 523h1v1h-1zM493 524h1v1h-1zM494 524h1v1h-1zM495 525h1v1h-1zM496 525h1v1h-1zM497 526h1v1h-1zM498 526h1v1h-1zM499 527h1v1h-1zM500 527h1v1h-1zM501 528h1v1h-1zM502 528h1v1h-1zM503 529h1v1h-1zM504 529h1v1h-1zM505 530h1v1h-1zM506 531h1v1h-1zM507 531h1v1h-1zM508 532h1v1h-1zM509 533h1v1h-1zM510 533h1v1h-1zM511 534h1v1h-1zM512 535h1v1h-1zM513 535h1v1h-1zM514 536h1v1h-1zM515 537h1v1h-1zM516 537h1v1h-1zM517 538h1v1h-1zM518 539h1v1h-1zM519 539h1v1h-1zM520 540h1v1h-1zM521 541h1v1h-1zM522 541h1v1h-1zM523 542h1v1h-1zM524 542h1v1h-1zM525 543h1v1h-1zM526 543h1v1h-1zM527 544h1v1h-1zM528 544h1v1h-1zM529 545h1v1h-1zM530 546h1v1h-1zM531 546h1v1h-1zM532 547h1v1h-1zM533 547h1v1h-1zM534 548h1v1h-1zM535 548h1v1h-1zM536 548h1v1h-1zM537 549h1v1h-1zM538 549h1v1h-1zM539 549h1v1h-1zM540 550h1v1h-1zM541 550h1v1h-1zM542 550h1v1h-1zM543 551h1v1h-1zM544 551h1v1h-1zM545 551h1v1h-1zM546 551h1v1h-1zM547 551h1v1h-1zM548 551h1v1h-1zM549 551h1v1h-1zM550 551h1v1h-1zM551 552h1v1h-1zM552 552h1v1h-1zM553 552h1v1h-1zM554 552h1v1h-1zM555 552h1v1h-1zM556 552h1v1h-1zM557 552h1v1h-1zM558 552h1v1h-1zM559 552h1v1h-1zM560 552h1v1h-1zM561 552h1v1h-1zM562 552h1v1h-1zM563 552h1v1h-1zM564 552h1v1h-1zM565 552h1v1h-1zM566 552h1v1h-1zM567 552h1v1h-1zM568 552h1v1h-1zM569 552h1v1h-1zM570 552h1v1h-1zM571 551h1v1h-1zM572 551h1v1h-1zM573 551h1v1h-1zM574 551h1v1h-1zM575 550h1v1h-1zM576 550h1v1h-1zM577 550h1v1h-1zM578 550h1v1h-1zM579 550h1v1h-1zM580 550h1v1h-1zM581 549h1v1h-1zM582 549h1v1h-1zM583 549h1v1h-1zM584 549h1v1h-1zM585 548h1v1h-1zM586 548h1v1h-1zM587 548h1v1h-1zM588 548h1v1h-1zM589 547h1v1h-1zM590 547h1v1h-1zM591 547h1v1h-1zM592 546h1v1h-1zM593 546h1v1h-1zM594 546h1v1h-1zM595 546h1v1h-1zM596 545h1v1h-1zM597 545h1v1h-1zM598 545h1v1h-1zM599 544h1v1h-1zM600 544h1v1h-1zM601 544h1v1h-1zM602 543h1v1h-1zM603 543h1v1h-1zM604 543h1v1h-1zM605 543h1v1h-1zM606 542h1v1h-1zM607 542h1v1h-1zM608 542h1v1h-1zM609 542h1v1h-1zM610 541h1v1h-1zM611 541h1v1h-1zM612 541h1v1h-1zM613 541h1v1h-1zM614 540h1v1h-1zM615 540h1v1h-1zM616 540h1v1h-1zM617 539h1v1h-1zM618 539h1v1h-1zM619 538h1v1h-1zM620 538h1v1h-1zM621 537h1v1h-1zM622 537h1v1h-1zM623 536h1v1h-1zM624 536h1v1h-1zM625 535h1v1h-1zM626 535h1v1h-1zM627 534h1v1h-1zM628 534h1v1h-1zM629 533h1v1h-1zM630 533h1v1h-1zM631 532h1v1h-1zM632 532h1v1h-1zM633 531h1v1h-1zM634 531h1v1h-1zM635 530h1v1h-1zM636 530h1v1h-1zM637 529h1v1h-1zM638 529h1v1h-1zM639 528h1v1h-1zM640 528h1v1h-1zM641 527h1v1h-1zM642 527h1v1h-1zM643 526h1v1h-1zM644 526h1v1h-1zM645 525h1v1h-1zM646 524h1v1h-1zM647 524h1v1h-1zM648 523h1v1h-1zM649 523h1v1h-1zM650 522h1v1h-1zM651 521h1v1h-1zM652 521h1v1h-1zM653 520h1v1h-1zM654 520h1v1h-1zM655 519h1v1h-1zM656 519h1v1h-1zM657 518h1v1h-1zM658 518h1v1h-1zM659 518h1v1h-1zM660 518h1v1h-1zM661 517h1v1h-1zM662 517h1v1h-1zM663 517h1v1h-1zM664 517h1v1h-1zM665 516h1v1h-1zM666 516h1v1h-1zM667 516h1v1h-1zM668 516h1v1h-1zM669 515h1v1h-1zM670 515h1v1h-1zM671 515h1v1h-1zM672 515h1v1h-1zM673 514h1v1h-1zM674 514h1v1h-1zM675 514h1v1h-1zM676 514h1v1h-1zM677 514h1v1h-1zM678 514h1v1h-1zM679 513h1v1h-1zM680 513h1v1h-1zM681 513h1v1h-1zM682 513h1v1h-1zM683 513h1v1h-1zM684 513h1v1h-1zM685 512h1v1h-1zM686 512h1v1h-1zM687 512h1v1h-1zM688 512h1v1h-1zM689 512h1v1h-1zM690 512h1v1h-1zM691 512h1v1h-1zM692 512h1v1h-1zM693 512h1v1h-1zM694 512h1v1h-1zM695 512h1v1h-1zM696 512h1v1h-1zM697 512h1v1h-1zM698 512h1v1h-1zM699 513h1v1h-1zM700 513h1v1h-1zM701 513h1v1h-1zM702 513h1v1h-1zM703 513h1v1h-1zM704 513h1v1h-1zM705 512h1v1h-1zM706 512h1v1h-1zM707 512h1v1h-1zM708 512h1v1h-1zM709 512h1v1h-1zM710 512h1v1h-1zM711 511h1v1h-1zM712 511h1v1h-1zM713 511h1v1h-1zM714 511h1v1h-1zM715 510h1v1h-1zM716 510h1v1h-1zM717 510h1v1h-1zM718 510h1v1h-1zM719 510h1v1h-1zM720 510h1v1h-1zM721 509h1v1h-1zM722 509h1v1h-1zM723 509h1v1h-1zM724 509h1v1h-1zM725 508h1v1h-1zM726 508h1v1h-1zM727 508h1v1h-1zM728 507h1v1h-1zM729 507h1v1h-1zM730 506h1v1h-1zM731 506h1v1h-1zM732 505h1v1h-1zM733 505h1v1h-1zM734 504h1v1h-1zM735 504h1v1h-1zM736 503h1v1h-1zM737 503h1v1h-1zM738 502h1v1h-1zM739 502h1v1h-1zM740 502h1v1h-1zM741 501h1v1h-1zM742 501h1v1h-1zM743 500h1v1h-1zM744 500h1v1h-1zM745 499h1v1h-1zM746 499h1v1h-1zM747 498h1v1h-1zM748 498h1v1h-1zM749 498h1v1h-1zM750 497h1v1h-1zM751 497h1v1h-1zM752 496h1v1h-1zM753 496h1v1h-1zM754 495h1v1h-1zM755 495h1v1h-1zM756 495h1v1h-1zM757 494h1v1h-1zM758 494h1v1h-1zM759 494h1v1h-1zM760 493h1v1h-1zM761 493h1v1h-1zM762 492h1v1h-1zM763 492h1v1h-1zM764 492h1v1h-1zM765 491h1v1h-1zM766 491h1v1h-1zM767 491h1v1h-1zM768 490h1v1h-1zM769 490h1v1h-1zM770 490h1v1h-1zM771 489h1v1h-1zM772 489h1v1h-1zM773 489h1v1h-1zM774 489h1v1h-1zM775 488h1v1h-1zM776 488h1v1h-1zM777 488h1v1h-1zM778 488h1v1h-1zM779 488h1v1h-1zM780 488h1v1h-1zM781 487h1v1h-1zM782 487h1v1h-1zM783 487h1v1h-1zM784 487h1v1h-1zM785 486h1v1h-1zM786 486h1v1h-1zM787 486h1v1h-1zM788 486h1v1h-1zM789 486h1v1h-1zM790 486h1v1h-1zM791 486h1v1h-1zM792 486h1v1h-1zM793 486h1v1h-1zM794 486h1v1h-1zM795 486h1v1h-1zM796 486h1v1h-1zM797 486h1v1h-1zM798 486h1v1h-1zM799 486h1v1h-1zM800 486h1v1h-1zM801 486h1v1h-1zM802 487h1v1h-1zM803 487h1v1h-1zM804 487h1v1h-1zM805 488h1v1h-1zM806 488h1v1h-1zM807 488h1v1h-1zM808 488h1v1h-1zM809 489h1v1h-1zM810 489h1v1h-1zM811 489h1v1h-1zM812 490h1v1h-1zM813 490h1v1h-1zM814 491h1v1h-1zM815 491h1v1h-1zM816 492h1v1h-1zM817 492h1v1h-1zM818 493h1v1h-1zM819 493h1v1h-1zM820 494h1v1h-1zM821 494h1v1h-1zM822 495h1v1h-1zM823 495h1v1h-1zM824 496h1v1h-1zM825 496h1v1h-1zM826 496h1v1h-1zM827 497h1v1h-1zM828 498h1v1h-1zM829 498h1v1h-1zM830 498h1v1h-1zM831 499h1v1h-1zM832 500h1v1h-1zM833 500h1v1h-1zM834 500h1v1h-1zM835 501h1v1h-1zM836 502h1v1h-1zM837 502h1v1h-1zM838 502h1v1h-1zM839 503h1v1h-1zM840 504h1v1h-1zM841 504h1v1h-1zM842 505h1v1h-1zM843 505h1v1h-1zM844 506h1v1h-1zM845 506h1v1h-1zM846 507h1v1h-1zM847 507h1v1h-1zM848 508h1v1h-1zM849 508h1v1h-1zM850 509h1v1h-1zM851 509h1v1h-1zM852 510h1v1h-1zM853 510h1v1h-1zM854 511h1v1h-1zM855 512h1v1h-1zM856 512h1v1h-1zM857 513h1v1h-1zM858 513h1v1h-1zM859 514h1v1h-1zM860 514h1v1h-1zM861 515h1v1h-1zM862 515h1v1h-1zM863 516h1v1h-1zM864 516h1v1h-1zM865 517h1v1h-1zM866 517h1v1h-1zM867 518h1v1h-1zM868 518h1v1h-1zM869 519h1v1h-1zM870 520h1v1h-1zM871 520h1v1h-1zM872 520h1v1h-1zM873 521h1v1h-1zM874 521h1v1h-1zM875 522h1v1h-1zM876 522h1v1h-1zM877 523h1v1h-1zM878 523h1v1h-1zM879 523h1v1h-1zM880 524h1v1h-1zM881 524h1v1h-1zM882 525h1v1h-1zM883 525h1v1h-1zM884 526h1v1h-1zM885 526h1v1h-1zM886 526h1v1h-1zM887 527h1v1h-1zM888 527h1v1h-1zM889 527h1v1h-1zM890 528h1v1h-1zM891 528h1v1h-1zM892 528h1v1h-1zM893 529h1v1h-1zM894 529h1v1h-1zM895 529h1v1h-1zM896 530h1v1h-1zM897 530h1v1h-1zM898 530h1v1h-1zM899 531h1v1h-1zM900 531h1v1h-1zM901 531h1v1h-1zM902 532h1v1h-1zM903 532h1v1h-1zM904 532h1v1h-1zM905 533h1v1h-1zM906 533h1v1h-1zM907 533h1v1h-1zM908 534h1v1h-1zM909 534h1v1h-1zM910 534h1v1h-1zM911 535h1v1h-1zM912 535h1v1h-1zM913 535h1v1h-1zM914 536h1v1h-1zM915 536h1v1h-1zM916 536h1v1h-1zM917 537h1v1h-1zM918 537h1v1h-1zM919 537h1v1h-1zM920 538h1v1h-1zM921 538h1v1h-1zM922 538h1v1h-1zM923 539h1v1h-1zM924 539h1v1h-1zM925 539h1v1h-1zM926 540h1v1h-1zM927 540h1v1h-1zM928 540h1v1h-1zM929 541h1v1h-1zM930 541h1v1h-1zM931 541h1v1h-1zM932 542h1v1h-1zM933 542h1v1h-1zM934 543h1v1h-1zM935 543h1v1h-1zM936 543h1v1h-1zM937 544h1v1h-1zM938 544h1v1h-1zM939 545h1v1h-1zM940 545h1v1h-1zM941 545h1v1h-1zM942 546h1v1h-1zM943 546h1v1h-1zM944 547h1v1h-1zM945 547h1v1h-1zM946 548h1v1h-1zM947 548h1v1h-1zM948 549h1v1h-1zM949 549h1v1h-1zM950 550h1v1h-1zM951 550h1v1h-1zM952 551h1v1h-1zM953 551h1v1h-1zM954 552h1v1h-1zM955 552h1v1h-1zM956 553h1v1h-1zM957 553h1v1h-1zM958 554h1v1h-1zM959 554h1v1h-1zM960 555h1v1h-1zM961 555h1v1h-1zM962 555h1v1h-1zM963 556h1v1h-1zM964 556h1v1h-1zM965 557h1v1h-1zM966 557h1v1h-1zM967 557h1v1h-1zM968 558h1v1h-1zM969 558h1v1h-1zM970 559h1v1h-1zM971 559h1v1h-1zM972 560h1v1h-1z" fill="#ff0000" shape-rendering="crispEdges" clip-path="url(#cq)"/>
<text x="9.5" y="488" font-size="10.0" fill="#000" textLength="153" lengthAdjust="spacingAndGlyphs" stroke="#000" stroke-width="0.15" >MACD(12,26,9) -0.002256 -0.001773</text>
<g shape-rendering="crispEdges">
<rect x="5" y="572" width="1" height="3" fill="#000" />
<rect x="69" y="572" width="1" height="3" fill="#000" />
<rect x="133" y="572" width="1" height="3" fill="#000" />
<rect x="197" y="572" width="1" height="3" fill="#000" />
<rect x="261" y="572" width="1" height="3" fill="#000" />
<rect x="325" y="572" width="1" height="3" fill="#000" />
<rect x="389" y="572" width="1" height="3" fill="#000" />
<rect x="453" y="572" width="1" height="3" fill="#000" />
<rect x="517" y="572" width="1" height="3" fill="#000" />
<rect x="581" y="572" width="1" height="3" fill="#000" />
<rect x="645" y="572" width="1" height="3" fill="#000" />
<rect x="709" y="572" width="1" height="3" fill="#000" />
<rect x="773" y="572" width="1" height="3" fill="#000" />
<rect x="837" y="572" width="1" height="3" fill="#000" />
<rect x="901" y="572" width="1" height="3" fill="#000" />
<rect x="965" y="572" width="1" height="3" fill="#000" />
</g>
<text x="4.3" y="584" font-size="10.0" fill="#000" textLength="51.5" lengthAdjust="spacingAndGlyphs" stroke="#000" stroke-width="0.15" >18 Dec 2018</text>
<text x="68.3" y="584" font-size="10.0" fill="#000" textLength="54.5" lengthAdjust="spacingAndGlyphs" stroke="#000" stroke-width="0.15" >19 Dec 19:00</text>
<text x="132.3" y="584" font-size="10.0" fill="#000" textLength="54.5" lengthAdjust="spacingAndGlyphs" stroke="#000" stroke-width="0.15" >21 Dec 00:00</text>
<text x="196.3" y="584" font-size="10.0" fill="#000" textLength="54.5" lengthAdjust="spacingAndGlyphs" stroke="#000" stroke-width="0.15" >24 Dec 11:00</text>
<text x="260.3" y="584" font-size="10.0" fill="#000" textLength="54.5" lengthAdjust="spacingAndGlyphs" stroke="#000" stroke-width="0.15" >26 Dec 15:00</text>
<text x="324.3" y="584" font-size="10.0" fill="#000" textLength="54.5" lengthAdjust="spacingAndGlyphs" stroke="#000" stroke-width="0.15" >27 Dec 23:00</text>
<text x="388.3" y="584" font-size="10.0" fill="#000" textLength="54.5" lengthAdjust="spacingAndGlyphs" stroke="#000" stroke-width="0.15" >31 Dec 07:00</text>
<text x="452.3" y="584" font-size="10.0" fill="#000" textLength="47" lengthAdjust="spacingAndGlyphs" stroke="#000" stroke-width="0.15" >2 Jan 11:00</text>
<text x="516.3" y="584" font-size="10.0" fill="#000" textLength="47" lengthAdjust="spacingAndGlyphs" stroke="#000" stroke-width="0.15" >3 Jan 19:00</text>
<text x="580.3" y="584" font-size="10.0" fill="#000" textLength="47" lengthAdjust="spacingAndGlyphs" stroke="#000" stroke-width="0.15" >5 Jan 00:00</text>
<text x="644.3" y="584" font-size="10.0" fill="#000" textLength="47" lengthAdjust="spacingAndGlyphs" stroke="#000" stroke-width="0.15" >8 Jan 11:00</text>
<text x="708.3" y="584" font-size="10.0" fill="#000" textLength="47" lengthAdjust="spacingAndGlyphs" stroke="#000" stroke-width="0.15" >9 Jan 19:00</text>
<text x="772.3" y="584" font-size="10.0" fill="#000" textLength="54.5" lengthAdjust="spacingAndGlyphs" stroke="#000" stroke-width="0.15" >11 Jan 00:00</text>
<text x="836.3" y="584" font-size="10.0" fill="#000" textLength="54.5" lengthAdjust="spacingAndGlyphs" stroke="#000" stroke-width="0.15" >14 Jan 11:00</text>
<text x="900.3" y="584" font-size="10.0" fill="#000" textLength="54.5" lengthAdjust="spacingAndGlyphs" stroke="#000" stroke-width="0.15" >15 Jan 19:00</text>
<text x="964.3" y="584" font-size="10.0" fill="#000" textLength="54.5" lengthAdjust="spacingAndGlyphs" stroke="#000" stroke-width="0.15" >17 Jan 00:00</text>
<path d="M8 41.5 L11.5 37 L15 41.5 Z" fill="#000"/>
<text x="20.5" y="42" font-size="10.0" fill="#000" textLength="53.5" lengthAdjust="spacingAndGlyphs" stroke="#000" stroke-width="0.15" >EURUSD,H4</text>
<text x="80.5" y="42" font-size="10.0" fill="#000" textLength="140.7" lengthAdjust="spacingAndGlyphs" stroke="#000" stroke-width="0.15" >1.13967 1.14015 1.13891 1.13942</text>
<text x="-2.6" y="18" font-size="10.0" fill="#3a3a3a" textLength="13" lengthAdjust="spacingAndGlyphs" >M1</text>
<text x="25.5" y="18" font-size="10.0" fill="#3a3a3a" textLength="13.2" lengthAdjust="spacingAndGlyphs" >M5</text>
<text x="51.5" y="18" font-size="10.0" fill="#3a3a3a" textLength="18.2" lengthAdjust="spacingAndGlyphs" >M15</text>
<text x="79.5" y="18" font-size="10.0" fill="#3a3a3a" textLength="18.6" lengthAdjust="spacingAndGlyphs" >M30</text>
<text x="110.5" y="18" font-size="10.0" fill="#3a3a3a" textLength="12.6" lengthAdjust="spacingAndGlyphs" >H1</text>
<text x="137.6" y="18" font-size="10.0" fill="#3a3a3a" textLength="12.8" lengthAdjust="spacingAndGlyphs" >H4</text>
<text x="166.2" y="18" font-size="10.0" fill="#3a3a3a" textLength="12.4" lengthAdjust="spacingAndGlyphs" >D1</text>
<text x="193.5" y="18" font-size="10.0" fill="#3a3a3a" textLength="15" lengthAdjust="spacingAndGlyphs" >W1</text>
<text x="220.5" y="18" font-size="10.0" fill="#3a3a3a" textLength="15.3" lengthAdjust="spacingAndGlyphs" >MN</text>
<g shape-rendering="crispEdges">
<rect x="8" y="50" width="52" height="24" fill="url(#gs)" stroke="none"/>
<rect x="176" y="50" width="51" height="24" fill="url(#gs)" />
<rect x="8" y="74" width="109" height="40" fill="url(#gp)" />
<rect x="119" y="74" width="108" height="40" fill="url(#gp)" />
<rect x="8" y="50" width="52" height="1" fill="#c41414" />
<rect x="8" y="50" width="1" height="64" fill="#c41414" />
<rect x="8" y="113" width="109" height="1" fill="#c41414" />
<rect x="116" y="74" width="1" height="40" fill="#c41414" />
<rect x="59" y="50" width="1" height="24" fill="#c41414" />
<rect x="176" y="50" width="51" height="1" fill="#c41414" />
<rect x="176" y="50" width="1" height="24" fill="#c41414" />
<rect x="226" y="50" width="1" height="64" fill="#c41414" />
<rect x="119" y="113" width="108" height="1" fill="#c41414" />
<rect x="119" y="74" width="1" height="40" fill="#c41414" />
<rect x="59" y="74" width="58" height="1" fill="#c41414" />
<rect x="119" y="74" width="57" height="1" fill="#c41414" />
<rect x="12" y="73" width="44" height="1" fill="#b00808" />
<rect x="12" y="74" width="44" height="1" fill="#f08080" />
<rect x="180" y="73" width="44" height="1" fill="#b00808" />
<rect x="180" y="74" width="44" height="1" fill="#f08080" />
<rect x="62" y="50" width="113" height="22" fill="#fff" />
<rect x="62.5" y="50.5" width="112" height="21" fill="#fff" stroke="#a8b0b8"/>
<rect x="64" y="52" width="19" height="18" fill="url(#gb)" />
<rect x="83" y="51" width="1" height="20" fill="#b8b8b8" />
<rect x="153" y="52" width="19" height="18" fill="url(#gb)" />
<rect x="152" y="51" width="1" height="20" fill="#b8b8b8" />
</g>
<path d="M70 59 L75.5 59 L72.75 62 Z" fill="#4060c0"/>
<path d="M159.5 62 L165 62 L162.25 59 Z" fill="#4060c0"/>
<text x="20.6" y="66.2" font-size="12.5" fill="#fff" textLength="25" lengthAdjust="spacingAndGlyphs" >SELL</text>
<text x="188.5" y="66.2" font-size="12.5" fill="#fff" textLength="22.5" lengthAdjust="spacingAndGlyphs" >BUY</text>
<text x="124" y="65.5" font-size="12" fill="#000" textLength="24" lengthAdjust="spacingAndGlyphs" >0.01</text>
<text x="28.6" y="104.5" font-size="11.5" fill="#fff" textLength="22.7" lengthAdjust="spacingAndGlyphs" font-weight="bold" >1.13</text>
<text x="56.8" y="105.3" font-size="34" fill="#fff" textLength="33.2" lengthAdjust="spacingAndGlyphs" >94</text>
<text x="95.6" y="89" font-size="10.5" fill="#fff" textLength="5.6" lengthAdjust="spacingAndGlyphs" font-weight="bold" >2</text>
<text x="139.6" y="104.5" font-size="11.5" fill="#fff" textLength="22.7" lengthAdjust="spacingAndGlyphs" font-weight="bold" >1.13</text>
<text x="167.3" y="105.3" font-size="34" fill="#fff" textLength="33.2" lengthAdjust="spacingAndGlyphs" >96</text>
<text x="207" y="89" font-size="10.5" fill="#fff" textLength="5.0" lengthAdjust="spacingAndGlyphs" font-weight="bold" >1</text>
<g shape-rendering="crispEdges">
<rect x="0" y="592" width="1277" height="2" fill="#ececec" />
<rect x="0" y="594" width="1278" height="20" fill="#f0f0f0" />
<rect x="0" y="594" width="1278" height="1" fill="#000" />
<rect x="0" y="614" width="1278" height="1" fill="#fff" />
<rect x="0" y="615" width="1278" height="3" fill="#f0f0f0" />
<rect x="0" y="618" width="1275" height="1" fill="#a8a8a8" />
<rect x="0" y="619" width="1278" height="2" fill="#fff" />
<rect x="66" y="619" width="1" height="2" fill="#e4e4e4" />
<rect x="174" y="619" width="1" height="2" fill="#e4e4e4" />
<rect x="258" y="619" width="1" height="2" fill="#e4e4e4" />
<rect x="7" y="613" width="91" height="1" fill="#d4d4d4" />
<rect x="0" y="594" width="1" height="20" fill="#a0a0a0" />
<rect x="1" y="594" width="1" height="20" fill="#696969" />
<rect x="2" y="595" width="2" height="18" fill="#d8d8d8" />
<rect x="4" y="595" width="2" height="18" fill="#fff" />
<rect x="6" y="594" width="92" height="19" fill="#fff" />
<rect x="6" y="594" width="1" height="19" fill="#000" />
<rect x="6" y="612" width="92" height="1" fill="#000" />
<rect x="97" y="594" width="1" height="19" fill="#000" />
<rect x="7" y="594" width="90" height="1" fill="#fff" />
<rect x="202" y="597" width="1" height="14" fill="#606060" />
<rect x="302" y="597" width="1" height="14" fill="#606060" />
<rect x="394" y="597" width="1" height="14" fill="#606060" />
<rect x="514" y="597" width="1" height="14" fill="#606060" />
<rect x="610" y="597" width="1" height="14" fill="#606060" />
<rect x="702" y="597" width="1" height="14" fill="#606060" />
<rect x="794" y="597" width="1" height="14" fill="#606060" />
<rect x="882" y="597" width="1" height="14" fill="#606060" />
<rect x="986" y="597" width="1" height="14" fill="#606060" />
<rect x="1054" y="597" width="1" height="14" fill="#606060" />
<rect x="1146" y="597" width="1" height="14" fill="#606060" />
<rect x="1222" y="597" width="1" height="14" fill="#606060" />
<rect x="1241" y="595" width="37" height="19" fill="#f0f0f0" />
</g>
<text x="18.5" y="608.6" font-size="12" fill="#000" textLength="67.5" lengthAdjust="spacingAndGlyphs" >EURUSD,H4</text>
<text x="109.3" y="608.6" font-size="12" fill="#808080" textLength="81.5" lengthAdjust="spacingAndGlyphs" >AUDUSD,Daily</text>
<text x="212" y="608.6" font-size="12" fill="#808080" textLength="78.5" lengthAdjust="spacingAndGlyphs" >USDCHF,Daily</text>
<text x="313.8" y="608.6" font-size="12" fill="#808080" textLength="68.2" lengthAdjust="spacingAndGlyphs" >USDCAD,H4</text>
<text x="405.5" y="608.6" font-size="12" fill="#808080" textLength="96.3" lengthAdjust="spacingAndGlyphs" >USDCNH,Weekly</text>
<text x="524.8" y="608.6" font-size="12" fill="#808080" textLength="73.7" lengthAdjust="spacingAndGlyphs" >USDJPY,Daily</text>
<text x="621.5" y="608.6" font-size="12" fill="#808080" textLength="68.3" lengthAdjust="spacingAndGlyphs" >XAUUSD,H4</text>
<text x="714.2" y="608.6" font-size="12" fill="#808080" textLength="67.5" lengthAdjust="spacingAndGlyphs" >GBPUSD,H1</text>
<text x="806.3" y="608.6" font-size="12" fill="#808080" textLength="62.9" lengthAdjust="spacingAndGlyphs" >SP500,M15</text>
<text x="894.5" y="608.6" font-size="12" fill="#808080" textLength="79.5" lengthAdjust="spacingAndGlyphs" >GBPUSD,Daily</text>
<text x="996.6" y="608.6" font-size="12" fill="#808080" textLength="46.1" lengthAdjust="spacingAndGlyphs" >DJ30,H4</text>
<text x="1064.5" y="608.6" font-size="12" fill="#808080" textLength="69.9" lengthAdjust="spacingAndGlyphs" >TECH100,H1</text>
<text x="1158.6" y="608.6" font-size="12" fill="#808080" textLength="51.5" lengthAdjust="spacingAndGlyphs" >UKOil,H1</text>
<clipPath id="cu"><rect x="1230" y="595" width="11" height="18"/></clipPath>
<text x="1234.5" y="608.6" font-size="12" fill="#808080" clip-path="url(#cu)">USOil,H1</text>
<path d="M1249.5 599.5 L1249.5 606.5 L1245.5 603 Z" fill="#a0a0a0"/>
<path d="M1264.5 599.5 L1264.5 606.5 L1268.5 603 Z" fill="#000"/>
<polyline points="1299.8,8.2 1294.3,13.5 1299.8,18.8" fill="none" stroke="#3c3c46" stroke-width="1.3"/>
<rect x="1301.6" y="8" width="1.6" height="11" fill="#3c3c46"/>
<rect x="1283.5" y="48.5" width="27" height="27" fill="#ffd84a" stroke="#ffc21a"/>
<polygon points="1297.0,52.5 1299.7,58.3 1306.0,59.1 1301.4,63.4 1302.6,69.7 1297.0,66.6 1291.4,69.7 1292.6,63.4 1288.0,59.1 1294.3,58.3" fill="#fff" stroke="#fff" stroke-width="0.8" stroke-linejoin="round"/>
<rect x="1283" y="94" width="28" height="26" rx="2" fill="#6496f5"/>
<rect x="1286.7" y="100.3" width="17" height="3.4" fill="#fff"/>
<rect x="1287" y="107" width="4.5" height="7" fill="#dce8fd"/>
<rect x="1293.8" y="107.4" width="10" height="1.9" fill="#fff"/>
<rect x="1293.8" y="112" width="10" height="1.9" fill="#fff"/>
<rect x="1283.5" y="138.5" width="27" height="27" fill="#ffd84a" stroke="#ffc21a"/>
<path d="M1285.4 156 C1285.4 151 1290 144.5 1294.5 144.3 C1297 144.3 1297.6 146.5 1297 148.8 C1299 147 1302 147 1304 148 L1304 160 C1301 162 1297 162.4 1294 162 C1289 161.5 1285.4 159.5 1285.4 156 Z" fill="#f0553a"/>
<ellipse cx="1295.1" cy="155.4" rx="7.1" ry="4.7" fill="#fff"/>
<ellipse cx="1294.7" cy="155.5" rx="3.9" ry="3.2" fill="#333"/>
<circle cx="1293.8" cy="156.2" r="0.9" fill="#fff"/>
<path d="M1302 142 L1303 142.6 L1303 145 L1302.3 144.2 Z" fill="#f0553a"/>
<rect x="1283" y="183" width="28" height="28" fill="#fff"/>
<polygon points="1283,183 1287.5,183 1285.5,185 1285,185 1285,186.5 1283,188" fill="#2f9cf4"/>
<polygon points="1290,183 1295.5,183 1293.5,185 1288,185" fill="#f04a2a"/>
<polygon points="1298,183 1303.5,183 1301.5,185 1296,185" fill="#2f9cf4"/>
<polygon points="1283,190 1285,188 1285,194 1283,196" fill="#f04a2a"/>
<polygon points="1283,198.3 1285,196.3 1285,202 1283,204" fill="#2f9cf4"/>
<polygon points="1283,206.5 1285,204.5 1285,210 1283,212" fill="#f04a2a"/>
<polygon points="1289.3,209 1295,209 1293,211 1287.3,211" fill="#2f9cf4"/>
<polygon points="1298,209 1304.5,209 1302.5,211 1296,211" fill="#f04a2a"/>
<text x="1289.6" y="200.6" font-size="16" fill="#f04a2a" stroke="#f04a2a" stroke-width="0.5">@</text>
</svg></body></html>
